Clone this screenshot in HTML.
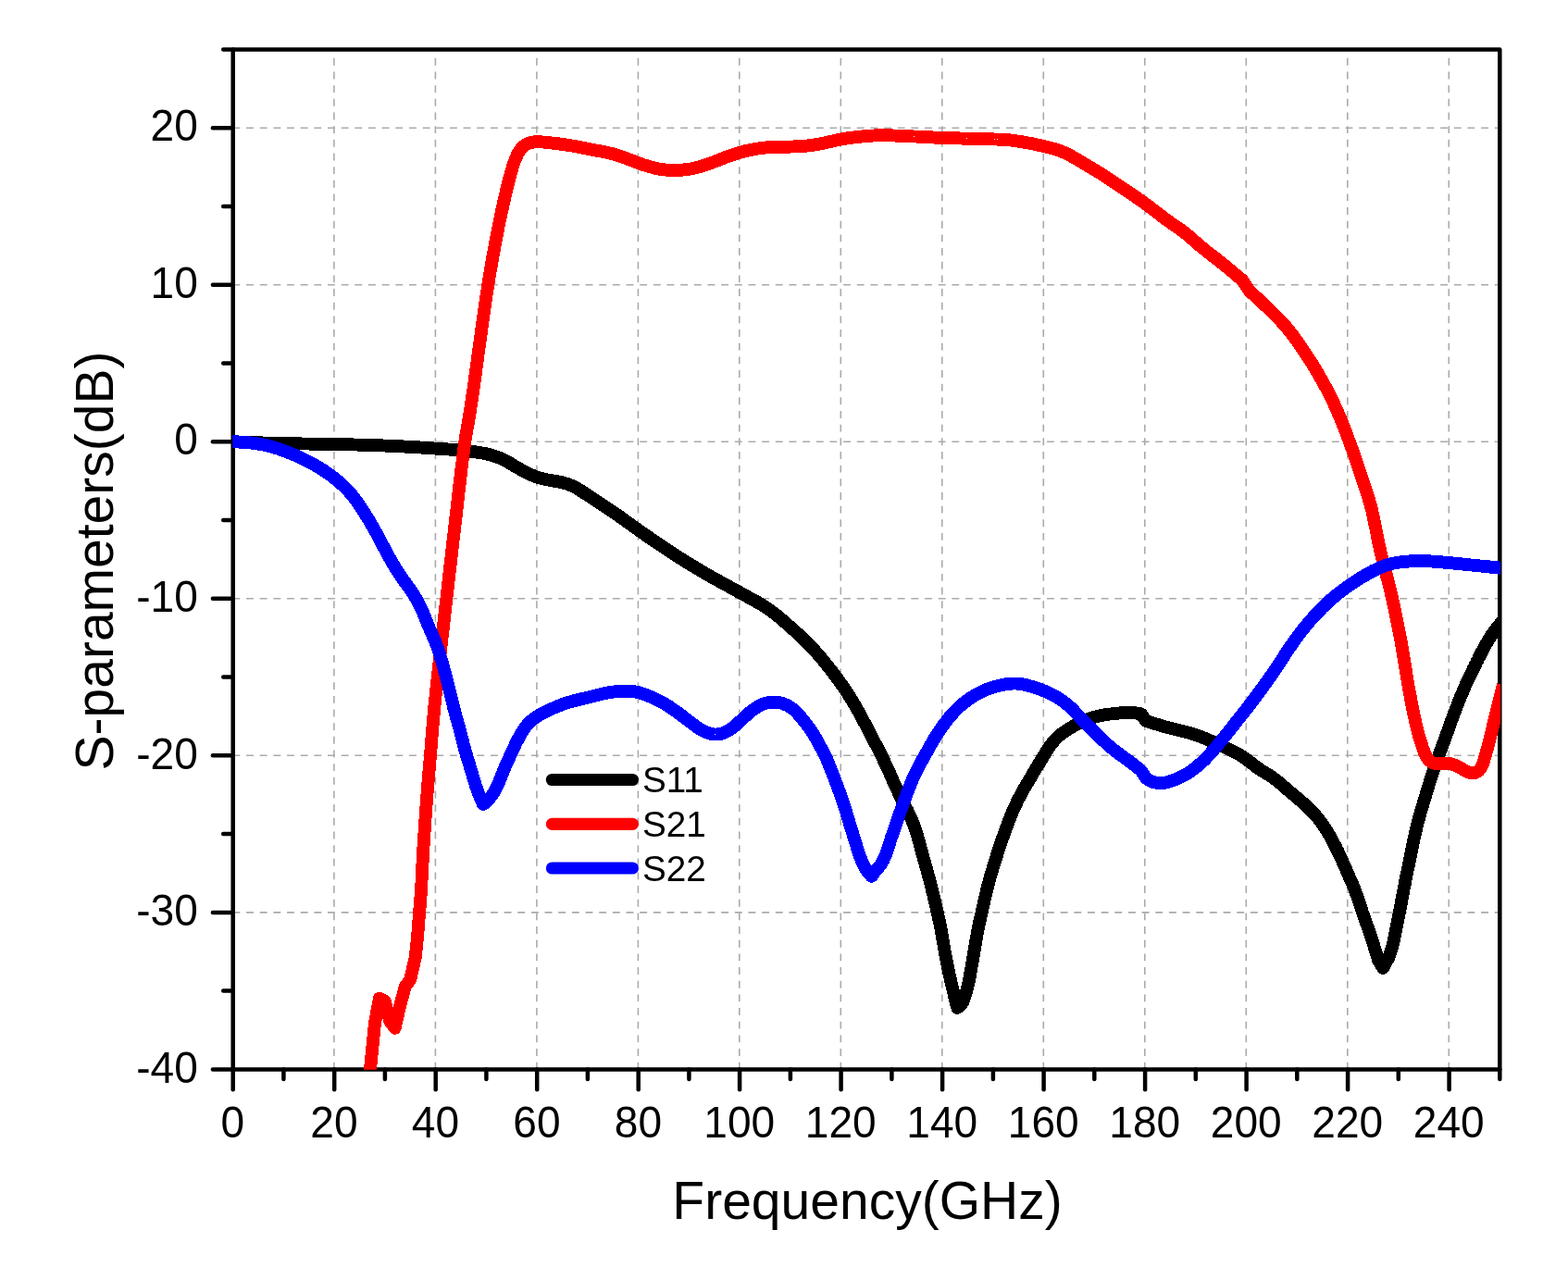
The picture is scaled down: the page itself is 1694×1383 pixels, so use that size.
<!DOCTYPE html>
<html lang="en">
<head>
<meta charset="utf-8">
<title>S-parameters vs Frequency</title>
<style>
html,body{margin:0;padding:0;background:#fff;}
body{width:1694px;height:1383px;overflow:hidden;}
svg{display:block;}
text{font-family:"Liberation Sans",Arial,Helvetica,sans-serif;fill:#000;}
.tick{font-size:48px;}
.lab{font-size:57px;}
.leg{font-size:38.7px;}
.ax{stroke:#000;stroke-width:4.5;fill:none;stroke-linecap:round;}
.grid{stroke:#aaaaaa;stroke-width:1.6;fill:none;stroke-dasharray:7.9 6.76;}
.crv{shape-rendering:crispEdges;fill:none;stroke-width:13.9;stroke-linejoin:round;stroke-linecap:butt;}
</style>
</head>
<body>
<svg xmlns="http://www.w3.org/2000/svg" width="1694" height="1383" viewBox="0 0 1694 1383">
<rect x="0" y="0" width="1694" height="1383" fill="#ffffff"/>
<defs><clipPath id="plot"><rect x="251.2" y="53.4" width="1369.9" height="1102.3"/></clipPath></defs>

<g class="grid">
<line x1="360.9" y1="1155.6" x2="360.9" y2="61.4"/>
<line x1="470.4" y1="1155.6" x2="470.4" y2="61.4"/>
<line x1="579.9" y1="1155.6" x2="579.9" y2="61.4"/>
<line x1="689.4" y1="1155.6" x2="689.4" y2="61.4"/>
<line x1="798.8" y1="1155.6" x2="798.8" y2="61.4"/>
<line x1="908.3" y1="1155.6" x2="908.3" y2="61.4"/>
<line x1="1017.8" y1="1155.6" x2="1017.8" y2="61.4"/>
<line x1="1127.3" y1="1155.6" x2="1127.3" y2="61.4"/>
<line x1="1236.8" y1="1155.6" x2="1236.8" y2="61.4"/>
<line x1="1346.3" y1="1155.6" x2="1346.3" y2="61.4"/>
<line x1="1455.8" y1="1155.6" x2="1455.8" y2="61.4"/>
<line x1="1565.3" y1="1155.6" x2="1565.3" y2="61.4"/>
<line x1="251.4" y1="985.9" x2="1620.3" y2="985.9"/>
<line x1="251.4" y1="816.3" x2="1620.3" y2="816.3"/>
<line x1="251.4" y1="646.8" x2="1620.3" y2="646.8"/>
<line x1="251.4" y1="477.2" x2="1620.3" y2="477.2"/>
<line x1="251.4" y1="307.7" x2="1620.3" y2="307.7"/>
<line x1="251.4" y1="138.2" x2="1620.3" y2="138.2"/>
</g>
<g class="ax">
<path d="M251.7,1155.4 L251.7,53.4 L1620.3,53.4 L1620.3,1155.4 L251.7,1155.4" stroke-linejoin="round"/>
<line x1="251.7" y1="1155.4" x2="251.7" y2="1177.2"/>
<line x1="306.4" y1="1155.4" x2="306.4" y2="1165.9"/>
<line x1="361.2" y1="1155.4" x2="361.2" y2="1177.2"/>
<line x1="415.9" y1="1155.4" x2="415.9" y2="1165.9"/>
<line x1="470.7" y1="1155.4" x2="470.7" y2="1177.2"/>
<line x1="525.4" y1="1155.4" x2="525.4" y2="1165.9"/>
<line x1="580.2" y1="1155.4" x2="580.2" y2="1177.2"/>
<line x1="634.9" y1="1155.4" x2="634.9" y2="1165.9"/>
<line x1="689.7" y1="1155.4" x2="689.7" y2="1177.2"/>
<line x1="744.4" y1="1155.4" x2="744.4" y2="1165.9"/>
<line x1="799.1" y1="1155.4" x2="799.1" y2="1177.2"/>
<line x1="853.9" y1="1155.4" x2="853.9" y2="1165.9"/>
<line x1="908.6" y1="1155.4" x2="908.6" y2="1177.2"/>
<line x1="963.4" y1="1155.4" x2="963.4" y2="1165.9"/>
<line x1="1018.1" y1="1155.4" x2="1018.1" y2="1177.2"/>
<line x1="1072.9" y1="1155.4" x2="1072.9" y2="1165.9"/>
<line x1="1127.6" y1="1155.4" x2="1127.6" y2="1177.2"/>
<line x1="1182.3" y1="1155.4" x2="1182.3" y2="1165.9"/>
<line x1="1237.1" y1="1155.4" x2="1237.1" y2="1177.2"/>
<line x1="1291.8" y1="1155.4" x2="1291.8" y2="1165.9"/>
<line x1="1346.6" y1="1155.4" x2="1346.6" y2="1177.2"/>
<line x1="1401.3" y1="1155.4" x2="1401.3" y2="1165.9"/>
<line x1="1456.1" y1="1155.4" x2="1456.1" y2="1177.2"/>
<line x1="1510.8" y1="1155.4" x2="1510.8" y2="1165.9"/>
<line x1="1565.6" y1="1155.4" x2="1565.6" y2="1177.2"/>
<line x1="1620.3" y1="1155.4" x2="1620.3" y2="1165.9"/>
<line x1="251.7" y1="1155.4" x2="229.9" y2="1155.4"/>
<line x1="251.7" y1="1070.6" x2="241.2" y2="1070.6"/>
<line x1="251.7" y1="985.9" x2="229.9" y2="985.9"/>
<line x1="251.7" y1="901.1" x2="241.2" y2="901.1"/>
<line x1="251.7" y1="816.3" x2="229.9" y2="816.3"/>
<line x1="251.7" y1="731.6" x2="241.2" y2="731.6"/>
<line x1="251.7" y1="646.8" x2="229.9" y2="646.8"/>
<line x1="251.7" y1="562.0" x2="241.2" y2="562.0"/>
<line x1="251.7" y1="477.2" x2="229.9" y2="477.2"/>
<line x1="251.7" y1="392.5" x2="241.2" y2="392.5"/>
<line x1="251.7" y1="307.7" x2="229.9" y2="307.7"/>
<line x1="251.7" y1="222.9" x2="241.2" y2="222.9"/>
<line x1="251.7" y1="138.2" x2="229.9" y2="138.2"/>
<line x1="251.7" y1="53.4" x2="241.2" y2="53.4"/>
</g>
<g clip-path="url(#plot)">
<path class="crv" stroke="#000000" d="M248.0,477.3 L249.5,477.3 L251.0,477.3 L252.5,477.3 L254.0,477.4 L255.5,477.4 L257.0,477.4 L258.5,477.5 L260.0,477.5 L261.5,477.6 L263.0,477.6 L264.5,477.7 L266.0,477.7 L267.5,477.8 L269.0,477.8 L270.5,477.9 L272.0,478.0 L273.5,478.0 L275.0,478.1 L276.5,478.1 L277.9,478.2 L279.4,478.3 L280.9,478.3 L282.4,478.4 L283.9,478.5 L285.4,478.5 L286.9,478.6 L288.4,478.6 L289.9,478.7 L291.4,478.8 L292.9,478.8 L294.4,478.9 L295.9,478.9 L297.4,479.0 L298.9,479.0 L300.4,479.0 L301.9,479.1 L303.4,479.1 L304.9,479.1 L306.4,479.2 L307.9,479.2 L309.4,479.2 L310.9,479.3 L312.4,479.3 L313.9,479.3 L315.4,479.3 L316.9,479.4 L318.4,479.4 L319.9,479.4 L321.4,479.4 L322.9,479.4 L324.4,479.4 L325.9,479.5 L327.4,479.5 L328.9,479.5 L330.4,479.5 L331.9,479.5 L333.4,479.5 L334.9,479.6 L336.4,479.6 L337.9,479.6 L339.4,479.6 L340.9,479.6 L342.4,479.6 L343.8,479.7 L345.3,479.7 L346.8,479.7 L348.3,479.7 L349.8,479.7 L351.3,479.8 L352.8,479.8 L354.3,479.8 L355.8,479.8 L357.3,479.8 L358.8,479.9 L360.3,479.9 L361.8,479.9 L363.3,480.0 L364.8,480.0 L366.3,480.0 L367.8,480.1 L369.3,480.1 L370.8,480.1 L372.3,480.2 L373.8,480.2 L375.3,480.2 L376.8,480.3 L378.3,480.3 L379.8,480.4 L381.3,480.4 L382.8,480.5 L384.3,480.5 L385.8,480.5 L387.3,480.6 L388.8,480.6 L390.3,480.7 L391.8,480.7 L393.3,480.8 L394.8,480.8 L396.3,480.9 L397.8,480.9 L399.3,481.0 L400.8,481.0 L402.3,481.1 L403.8,481.1 L405.3,481.2 L406.8,481.2 L408.3,481.3 L409.7,481.3 L411.2,481.4 L412.7,481.4 L414.2,481.5 L415.7,481.5 L417.2,481.6 L418.7,481.6 L420.2,481.7 L421.7,481.8 L423.2,481.8 L424.7,481.9 L426.2,482.0 L427.7,482.0 L429.2,482.1 L430.7,482.2 L432.2,482.3 L433.7,482.3 L435.2,482.4 L436.7,482.5 L438.2,482.6 L439.7,482.7 L441.2,482.7 L442.7,482.8 L444.2,482.9 L445.7,483.0 L447.2,483.1 L448.7,483.2 L450.2,483.3 L451.7,483.4 L453.1,483.4 L454.6,483.5 L456.1,483.6 L457.6,483.7 L459.1,483.8 L460.6,483.9 L462.1,484.0 L463.6,484.1 L465.1,484.2 L466.6,484.3 L468.1,484.4 L469.6,484.5 L471.1,484.6 L472.6,484.6 L474.1,484.7 L475.6,484.9 L477.1,485.0 L478.6,485.1 L480.1,485.2 L481.6,485.3 L483.1,485.4 L484.6,485.5 L486.1,485.6 L487.6,485.8 L489.1,485.9 L490.6,486.0 L492.1,486.2 L493.5,486.3 L495.0,486.4 L496.5,486.6 L498.0,486.7 L499.5,486.9 L501.0,487.0 L502.5,487.2 L504.0,487.3 L505.5,487.5 L507.0,487.6 L508.5,487.8 L509.9,487.9 L511.4,488.1 L512.9,488.3 L514.4,488.5 L515.9,488.7 L517.3,488.9 L518.8,489.1 L520.3,489.4 L521.8,489.6 L523.3,489.9 L524.7,490.2 L526.2,490.6 L527.7,490.9 L529.1,491.3 L530.6,491.7 L532.0,492.1 L533.5,492.5 L534.9,493.0 L536.3,493.5 L537.7,494.0 L539.1,494.5 L540.5,495.1 L541.8,495.7 L543.2,496.3 L544.5,496.9 L545.8,497.6 L547.1,498.3 L548.4,499.0 L549.7,499.8 L551.0,500.5 L552.3,501.3 L553.6,502.1 L554.9,502.9 L556.2,503.7 L557.5,504.4 L558.8,505.2 L560.1,505.9 L561.4,506.7 L562.7,507.4 L564.1,508.1 L565.4,508.9 L566.7,509.5 L568.1,510.2 L569.4,510.9 L570.7,511.6 L572.1,512.2 L573.5,512.8 L574.8,513.4 L576.2,514.0 L577.6,514.5 L579.0,515.1 L580.4,515.6 L581.8,516.0 L583.3,516.5 L584.7,516.9 L586.2,517.3 L587.6,517.6 L589.1,518.0 L590.6,518.3 L592.0,518.5 L593.5,518.8 L595.0,519.1 L596.5,519.3 L598.0,519.6 L599.5,519.8 L601.0,520.1 L602.5,520.3 L604.0,520.6 L605.4,520.9 L606.9,521.2 L608.3,521.6 L609.8,522.0 L611.2,522.4 L612.6,522.8 L614.0,523.3 L615.4,523.8 L616.7,524.4 L618.1,525.0 L619.4,525.6 L620.8,526.3 L622.1,527.0 L623.4,527.7 L624.7,528.4 L626.0,529.2 L627.2,530.0 L628.5,530.8 L629.8,531.6 L631.0,532.5 L632.3,533.3 L633.5,534.1 L634.8,535.0 L636.1,535.8 L637.3,536.6 L638.6,537.5 L639.8,538.3 L641.1,539.1 L642.3,540.0 L643.6,540.8 L644.9,541.6 L646.1,542.4 L647.4,543.2 L648.6,544.1 L649.9,544.9 L651.1,545.7 L652.4,546.5 L653.6,547.3 L654.9,548.2 L656.1,549.0 L657.4,549.8 L658.6,550.7 L659.9,551.5 L661.1,552.3 L662.3,553.2 L663.6,554.0 L664.8,554.9 L666.0,555.7 L667.3,556.6 L668.5,557.5 L669.7,558.3 L670.9,559.2 L672.2,560.1 L673.4,560.9 L674.6,561.8 L675.8,562.7 L677.0,563.6 L678.2,564.4 L679.5,565.3 L680.7,566.2 L681.9,567.1 L683.1,567.9 L684.3,568.8 L685.5,569.7 L686.8,570.6 L688.0,571.4 L689.2,572.3 L690.4,573.2 L691.6,574.0 L692.9,574.9 L694.1,575.7 L695.3,576.6 L696.6,577.5 L697.8,578.3 L699.0,579.2 L700.3,580.0 L701.5,580.9 L702.7,581.7 L704.0,582.6 L705.2,583.4 L706.4,584.2 L707.7,585.1 L708.9,585.9 L710.2,586.8 L711.4,587.6 L712.6,588.4 L713.9,589.3 L715.1,590.1 L716.4,591.0 L717.6,591.8 L718.9,592.6 L720.1,593.4 L721.4,594.3 L722.6,595.1 L723.9,595.9 L725.1,596.8 L726.4,597.6 L727.6,598.4 L728.9,599.2 L730.1,600.0 L731.4,600.9 L732.6,601.7 L733.9,602.5 L735.2,603.3 L736.4,604.1 L737.7,604.9 L739.0,605.7 L740.2,606.5 L741.5,607.3 L742.8,608.1 L744.0,608.8 L745.3,609.6 L746.6,610.4 L747.9,611.2 L749.2,612.0 L750.4,612.7 L751.7,613.5 L753.0,614.3 L754.3,615.0 L755.6,615.8 L756.9,616.6 L758.2,617.3 L759.5,618.1 L760.8,618.8 L762.1,619.6 L763.4,620.3 L764.7,621.1 L766.0,621.8 L767.3,622.6 L768.6,623.3 L769.9,624.0 L771.2,624.8 L772.5,625.5 L773.8,626.2 L775.1,627.0 L776.4,627.7 L777.7,628.4 L779.0,629.1 L780.4,629.9 L781.7,630.6 L783.0,631.3 L784.3,632.0 L785.6,632.7 L786.9,633.4 L788.2,634.2 L789.6,634.9 L790.9,635.6 L792.2,636.3 L793.5,637.0 L794.8,637.8 L796.1,638.5 L797.4,639.2 L798.8,639.9 L800.1,640.7 L801.4,641.4 L802.7,642.1 L804.0,642.8 L805.3,643.5 L806.7,644.2 L808.0,645.0 L809.3,645.7 L810.6,646.4 L812.0,647.1 L813.3,647.8 L814.6,648.6 L815.9,649.3 L817.2,650.0 L818.5,650.8 L819.8,651.5 L821.1,652.3 L822.4,653.1 L823.6,653.8 L824.9,654.6 L826.1,655.4 L827.4,656.2 L828.6,657.1 L829.9,657.9 L831.1,658.8 L832.3,659.6 L833.5,660.5 L834.7,661.4 L835.9,662.3 L837.1,663.2 L838.2,664.2 L839.4,665.1 L840.6,666.1 L841.8,667.0 L842.9,668.0 L844.1,668.9 L845.2,669.9 L846.4,670.9 L847.5,671.9 L848.6,672.8 L849.8,673.8 L850.9,674.8 L852.0,675.8 L853.2,676.8 L854.3,677.8 L855.4,678.8 L856.5,679.8 L857.7,680.8 L858.8,681.8 L859.9,682.8 L861.0,683.8 L862.1,684.8 L863.2,685.8 L864.3,686.8 L865.4,687.9 L866.5,688.9 L867.6,689.9 L868.7,691.0 L869.7,692.0 L870.8,693.1 L871.9,694.1 L872.9,695.2 L874.0,696.3 L875.0,697.3 L876.0,698.4 L877.0,699.5 L878.1,700.6 L879.1,701.7 L880.1,702.8 L881.1,703.9 L882.1,705.0 L883.0,706.2 L884.0,707.3 L885.0,708.4 L886.0,709.6 L887.0,710.7 L887.9,711.8 L888.9,713.0 L889.8,714.2 L890.8,715.3 L891.7,716.5 L892.7,717.6 L893.6,718.8 L894.6,720.0 L895.5,721.2 L896.4,722.4 L897.4,723.5 L898.3,724.7 L899.2,725.9 L900.1,727.1 L901.0,728.3 L901.9,729.5 L902.8,730.7 L903.7,731.9 L904.6,733.1 L905.5,734.3 L906.3,735.6 L907.2,736.8 L908.1,738.0 L908.9,739.2 L909.8,740.4 L910.7,741.7 L911.5,742.9 L912.3,744.1 L913.2,745.4 L914.0,746.6 L914.8,747.9 L915.6,749.1 L916.4,750.4 L917.3,751.7 L918.1,752.9 L918.8,754.2 L919.6,755.5 L920.4,756.8 L921.2,758.1 L922.0,759.3 L922.7,760.6 L923.5,761.9 L924.2,763.2 L925.0,764.5 L925.7,765.8 L926.5,767.1 L927.2,768.4 L927.9,769.7 L928.7,771.0 L929.4,772.3 L930.1,773.7 L930.8,775.0 L931.5,776.3 L932.2,777.6 L932.9,779.0 L933.6,780.3 L934.3,781.6 L935.0,782.9 L935.7,784.3 L936.4,785.6 L937.1,786.9 L937.8,788.2 L938.5,789.6 L939.2,790.9 L939.9,792.2 L940.6,793.6 L941.3,794.9 L942.0,796.2 L942.7,797.5 L943.4,798.9 L944.0,800.2 L944.7,801.5 L945.4,802.9 L946.1,804.2 L946.8,805.5 L947.5,806.9 L948.2,808.2 L948.9,809.5 L949.5,810.9 L950.2,812.2 L950.9,813.5 L951.5,814.9 L952.2,816.2 L952.9,817.6 L953.5,818.9 L954.2,820.3 L954.8,821.6 L955.5,823.0 L956.1,824.3 L956.7,825.7 L957.4,827.0 L958.0,828.4 L958.6,829.8 L959.2,831.1 L959.8,832.5 L960.5,833.9 L961.1,835.2 L961.7,836.6 L962.3,838.0 L962.9,839.3 L963.5,840.7 L964.1,842.1 L964.7,843.4 L965.3,844.8 L966.0,846.2 L966.6,847.5 L967.2,848.9 L967.8,850.3 L968.5,851.6 L969.1,853.0 L969.8,854.3 L970.4,855.7 L971.0,857.0 L971.7,858.4 L972.4,859.7 L973.0,861.1 L973.7,862.4 L974.3,863.7 L975.0,865.1 L975.7,866.4 L976.3,867.8 L977.0,869.1 L977.7,870.5 L978.3,871.8 L979.0,873.2 L979.7,874.5 L980.4,875.8 L981.0,877.2 L981.7,878.5 L982.3,879.9 L983.0,881.2 L983.6,882.6 L984.3,884.0 L984.9,885.3 L985.5,886.7 L986.0,888.1 L986.6,889.4 L987.1,890.8 L987.7,892.2 L988.2,893.6 L988.7,895.0 L989.1,896.5 L989.6,897.9 L990.0,899.3 L990.5,900.8 L990.9,902.2 L991.3,903.6 L991.7,905.1 L992.1,906.5 L992.5,908.0 L992.9,909.4 L993.3,910.9 L993.7,912.3 L994.1,913.8 L994.5,915.2 L994.9,916.7 L995.2,918.1 L995.6,919.6 L996.0,921.0 L996.4,922.4 L996.8,923.9 L997.2,925.3 L997.6,926.8 L998.0,928.2 L998.4,929.7 L998.8,931.1 L999.2,932.5 L999.6,934.0 L1000.0,935.4 L1000.4,936.9 L1000.9,938.3 L1001.3,939.8 L1001.6,941.2 L1002.0,942.7 L1002.4,944.1 L1002.8,945.5 L1003.2,947.0 L1003.6,948.4 L1004.0,949.9 L1004.4,951.3 L1004.7,952.8 L1005.1,954.2 L1005.5,955.7 L1005.9,957.1 L1006.2,958.6 L1006.6,960.1 L1006.9,961.5 L1007.3,963.0 L1007.7,964.4 L1008.0,965.9 L1008.4,967.3 L1008.7,968.8 L1009.1,970.2 L1009.4,971.7 L1009.8,973.2 L1010.1,974.6 L1010.4,976.1 L1010.8,977.5 L1011.1,979.0 L1011.5,980.4 L1011.8,981.9 L1012.1,983.4 L1012.5,984.8 L1012.8,986.3 L1013.1,987.8 L1013.5,989.2 L1013.8,990.7 L1014.1,992.1 L1014.4,993.6 L1014.8,995.1 L1015.1,996.5 L1015.4,998.0 L1015.7,999.5 L1016.0,1000.9 L1016.2,1002.4 L1016.5,1003.9 L1016.8,1005.4 L1017.1,1006.8 L1017.3,1008.3 L1017.6,1009.8 L1017.8,1011.3 L1018.1,1012.7 L1018.3,1014.2 L1018.6,1015.7 L1018.9,1017.2 L1019.1,1018.6 L1019.4,1020.1 L1019.6,1021.6 L1019.9,1023.1 L1020.1,1024.5 L1020.4,1026.0 L1020.6,1027.5 L1020.9,1029.0 L1021.1,1030.4 L1021.4,1031.9 L1021.7,1033.4 L1021.9,1034.9 L1022.2,1036.3 L1022.5,1037.8 L1022.8,1039.3 L1023.1,1040.8 L1023.4,1042.2 L1023.7,1043.7 L1024.0,1045.2 L1024.3,1046.6 L1024.6,1048.1 L1024.9,1049.6 L1025.2,1051.0 L1025.6,1052.5 L1025.9,1053.9 L1026.2,1055.4 L1026.5,1056.9 L1026.9,1058.3 L1027.2,1059.8 L1027.5,1061.2 L1027.9,1062.7 L1028.2,1064.2 L1028.6,1065.6 L1028.9,1067.1 L1029.2,1068.5 L1029.6,1070.0 L1029.9,1071.5 L1030.3,1072.9 L1030.6,1074.4 L1031.0,1075.8 L1031.3,1077.3 L1031.7,1078.7 L1032.0,1080.2 L1032.4,1081.7 L1032.8,1083.1 L1033.2,1084.6 L1033.5,1086.0 L1033.9,1087.5 L1034.3,1088.9 L1040.0,1083.2 L1040.5,1081.8 L1041.0,1080.4 L1041.6,1079.0 L1042.1,1077.6 L1042.6,1076.1 L1043.0,1074.7 L1043.5,1073.3 L1043.9,1071.8 L1044.3,1070.4 L1044.7,1069.0 L1045.1,1067.5 L1045.4,1066.1 L1045.8,1064.6 L1046.1,1063.2 L1046.4,1061.7 L1046.7,1060.2 L1047.0,1058.8 L1047.3,1057.3 L1047.6,1055.8 L1047.9,1054.4 L1048.2,1052.9 L1048.4,1051.4 L1048.7,1049.9 L1048.9,1048.5 L1049.2,1047.0 L1049.5,1045.5 L1049.7,1044.0 L1050.0,1042.6 L1050.2,1041.1 L1050.5,1039.6 L1050.7,1038.1 L1051.0,1036.6 L1051.2,1035.2 L1051.5,1033.7 L1051.7,1032.2 L1052.0,1030.7 L1052.2,1029.3 L1052.5,1027.8 L1052.7,1026.3 L1053.0,1024.8 L1053.2,1023.3 L1053.5,1021.9 L1053.7,1020.4 L1054.0,1018.9 L1054.2,1017.4 L1054.5,1016.0 L1054.7,1014.5 L1055.0,1013.0 L1055.2,1011.5 L1055.5,1010.1 L1055.8,1008.6 L1056.0,1007.1 L1056.3,1005.6 L1056.6,1004.2 L1056.9,1002.7 L1057.2,1001.2 L1057.5,999.8 L1057.8,998.3 L1058.1,996.8 L1058.4,995.4 L1058.8,993.9 L1059.1,992.5 L1059.4,991.0 L1059.7,989.5 L1060.1,988.1 L1060.4,986.6 L1060.7,985.1 L1061.1,983.7 L1061.4,982.2 L1061.7,980.8 L1062.1,979.3 L1062.4,977.8 L1062.7,976.4 L1063.0,974.9 L1063.4,973.5 L1063.7,972.0 L1064.0,970.5 L1064.4,969.1 L1064.7,967.6 L1065.0,966.2 L1065.4,964.7 L1065.7,963.2 L1066.1,961.8 L1066.4,960.3 L1066.8,958.9 L1067.2,957.4 L1067.5,956.0 L1067.9,954.5 L1068.3,953.1 L1068.7,951.6 L1069.1,950.2 L1069.5,948.8 L1069.9,947.3 L1070.3,945.9 L1070.7,944.4 L1071.1,943.0 L1071.6,941.6 L1072.0,940.1 L1072.4,938.7 L1072.9,937.2 L1073.3,935.8 L1073.7,934.4 L1074.2,932.9 L1074.6,931.5 L1075.1,930.1 L1075.5,928.7 L1076.0,927.2 L1076.4,925.8 L1076.9,924.4 L1077.3,923.0 L1077.8,921.5 L1078.3,920.1 L1078.7,918.7 L1079.2,917.3 L1079.7,915.8 L1080.1,914.4 L1080.6,913.0 L1081.1,911.6 L1081.6,910.2 L1082.1,908.7 L1082.6,907.3 L1083.0,905.9 L1083.5,904.5 L1084.0,903.1 L1084.5,901.7 L1085.0,900.3 L1085.5,898.8 L1086.0,897.4 L1086.5,896.0 L1087.0,894.6 L1087.6,893.2 L1088.1,891.8 L1088.6,890.4 L1089.1,889.0 L1089.7,887.6 L1090.2,886.2 L1090.7,884.8 L1091.3,883.4 L1091.9,882.0 L1092.4,880.6 L1093.0,879.3 L1093.6,877.9 L1094.2,876.5 L1094.8,875.1 L1095.4,873.8 L1096.0,872.4 L1096.6,871.0 L1097.2,869.7 L1097.9,868.3 L1098.5,867.0 L1099.2,865.6 L1099.8,864.3 L1100.5,862.9 L1101.2,861.6 L1101.9,860.3 L1102.6,859.0 L1103.3,857.6 L1104.0,856.3 L1104.8,855.0 L1105.5,853.7 L1106.2,852.4 L1107.0,851.1 L1107.7,849.8 L1108.5,848.5 L1109.3,847.2 L1110.0,845.9 L1110.8,844.7 L1111.5,843.4 L1112.3,842.1 L1113.1,840.8 L1113.8,839.5 L1114.6,838.2 L1115.4,836.9 L1116.1,835.6 L1116.9,834.3 L1117.7,833.1 L1118.4,831.8 L1119.2,830.5 L1120.0,829.2 L1120.7,827.9 L1121.5,826.6 L1122.3,825.3 L1123.1,824.1 L1123.8,822.8 L1124.6,821.5 L1125.4,820.2 L1126.2,818.9 L1127.0,817.6 L1127.8,816.3 L1128.6,815.0 L1129.4,813.7 L1130.2,812.4 L1131.0,811.2 L1131.8,809.9 L1132.6,808.6 L1133.5,807.4 L1134.3,806.1 L1135.2,804.9 L1136.1,803.7 L1137.0,802.5 L1137.9,801.4 L1138.8,800.3 L1139.8,799.2 L1140.8,798.1 L1141.9,797.1 L1142.9,796.1 L1144.0,795.1 L1145.2,794.1 L1146.3,793.2 L1147.5,792.3 L1148.7,791.4 L1150.0,790.6 L1151.2,789.7 L1152.5,788.9 L1153.8,788.1 L1155.1,787.3 L1156.4,786.5 L1157.7,785.7 L1159.0,785.0 L1160.3,784.2 L1161.6,783.5 L1163.0,782.8 L1164.3,782.1 L1165.6,781.4 L1167.0,780.7 L1168.3,780.1 L1169.7,779.4 L1171.1,778.8 L1172.4,778.2 L1173.8,777.6 L1175.2,777.1 L1176.6,776.5 L1178.0,776.1 L1179.5,775.6 L1180.9,775.2 L1182.3,774.8 L1183.7,774.4 L1185.2,774.0 L1186.7,773.7 L1188.1,773.4 L1189.6,773.1 L1191.1,772.8 L1192.5,772.5 L1194.0,772.3 L1195.5,772.1 L1197.0,771.8 L1198.5,771.6 L1200.0,771.5 L1201.5,771.3 L1203.0,771.1 L1204.5,770.9 L1205.9,770.8 L1207.4,770.7 L1208.9,770.5 L1210.4,770.4 L1211.9,770.3 L1213.4,770.3 L1214.9,770.2 L1216.4,770.1 L1217.9,770.1 L1219.4,770.1 L1220.9,770.1 L1222.4,770.1 L1223.9,770.1 L1225.4,770.2 L1226.9,770.4 L1228.4,770.6 L1229.8,770.9 L1231.3,771.1 L1232.8,771.4 L1237.8,778.9 L1239.2,779.4 L1240.6,779.8 L1242.1,780.3 L1243.5,780.7 L1244.9,781.2 L1246.4,781.6 L1247.8,782.0 L1249.2,782.5 L1250.7,782.9 L1252.1,783.3 L1253.5,783.8 L1255.0,784.2 L1256.4,784.6 L1257.8,785.0 L1259.3,785.4 L1260.7,785.8 L1262.2,786.2 L1263.6,786.6 L1265.1,786.9 L1266.5,787.3 L1268.0,787.7 L1269.4,788.0 L1270.9,788.4 L1272.3,788.7 L1273.8,789.1 L1275.3,789.4 L1276.7,789.8 L1278.2,790.1 L1279.6,790.5 L1281.1,790.9 L1282.5,791.2 L1283.9,791.6 L1285.4,792.0 L1286.8,792.4 L1288.2,792.9 L1289.7,793.3 L1291.1,793.8 L1292.5,794.3 L1293.9,794.8 L1295.3,795.3 L1296.7,795.8 L1298.1,796.4 L1299.5,796.9 L1300.9,797.5 L1302.3,798.0 L1303.6,798.6 L1305.0,799.2 L1306.4,799.8 L1307.8,800.4 L1309.1,801.0 L1310.5,801.6 L1311.9,802.2 L1313.3,802.8 L1314.6,803.4 L1316.0,804.0 L1317.4,804.7 L1318.7,805.3 L1320.1,805.9 L1321.5,806.5 L1322.8,807.2 L1324.2,807.8 L1325.6,808.5 L1326.9,809.1 L1328.3,809.8 L1329.6,810.4 L1331.0,811.1 L1332.3,811.8 L1333.7,812.5 L1335.0,813.2 L1336.3,813.9 L1337.6,814.6 L1338.9,815.3 L1340.2,816.1 L1341.5,816.9 L1342.7,817.7 L1343.9,818.5 L1345.2,819.3 L1346.4,820.2 L1347.5,821.1 L1348.7,822.0 L1349.9,822.9 L1351.0,823.8 L1352.2,824.8 L1353.4,825.7 L1354.6,826.6 L1355.7,827.5 L1356.9,828.4 L1358.1,829.3 L1359.4,830.1 L1360.6,831.0 L1361.9,831.8 L1363.1,832.6 L1364.4,833.4 L1365.7,834.1 L1367.0,834.9 L1368.2,835.7 L1369.5,836.5 L1370.8,837.3 L1372.0,838.1 L1373.3,838.9 L1374.5,839.8 L1375.7,840.6 L1376.9,841.5 L1378.1,842.4 L1379.3,843.3 L1380.4,844.3 L1381.6,845.2 L1382.8,846.2 L1383.9,847.1 L1385.0,848.1 L1386.2,849.1 L1387.3,850.1 L1388.4,851.1 L1389.6,852.0 L1390.7,853.0 L1391.8,854.0 L1393.0,854.9 L1394.1,855.9 L1395.3,856.9 L1396.4,857.8 L1397.6,858.8 L1398.7,859.8 L1399.8,860.7 L1401.0,861.7 L1402.1,862.7 L1403.3,863.7 L1404.4,864.6 L1405.5,865.6 L1406.7,866.6 L1407.8,867.6 L1408.9,868.6 L1410.0,869.6 L1411.1,870.6 L1412.2,871.6 L1413.3,872.7 L1414.4,873.7 L1415.5,874.7 L1416.5,875.8 L1417.6,876.9 L1418.6,877.9 L1419.6,879.0 L1420.6,880.2 L1421.6,881.3 L1422.5,882.4 L1423.5,883.6 L1424.4,884.7 L1425.3,885.9 L1426.2,887.1 L1427.1,888.3 L1428.0,889.5 L1428.9,890.8 L1429.7,892.0 L1430.6,893.2 L1431.4,894.5 L1432.2,895.7 L1433.0,897.0 L1433.8,898.3 L1434.6,899.6 L1435.3,900.8 L1436.1,902.1 L1436.8,903.4 L1437.6,904.7 L1438.3,906.0 L1439.0,907.3 L1439.7,908.7 L1440.4,910.0 L1441.1,911.3 L1441.8,912.6 L1442.5,914.0 L1443.2,915.3 L1443.8,916.7 L1444.5,918.0 L1445.2,919.3 L1445.8,920.7 L1446.4,922.0 L1447.1,923.4 L1447.7,924.8 L1448.3,926.1 L1448.9,927.5 L1449.6,928.8 L1450.2,930.2 L1450.8,931.6 L1451.4,932.9 L1452.0,934.3 L1452.6,935.7 L1453.2,937.0 L1453.8,938.4 L1454.4,939.8 L1455.0,941.2 L1455.6,942.5 L1456.2,943.9 L1456.8,945.3 L1457.4,946.6 L1458.0,948.0 L1458.6,949.4 L1459.2,950.7 L1459.8,952.1 L1460.4,953.5 L1461.0,954.9 L1461.6,956.3 L1462.1,957.6 L1462.7,959.0 L1463.2,960.4 L1463.8,961.8 L1464.3,963.2 L1464.8,964.6 L1465.3,966.0 L1465.8,967.4 L1466.3,968.8 L1466.8,970.3 L1467.3,971.7 L1467.7,973.1 L1468.2,974.5 L1468.7,975.9 L1469.2,977.4 L1469.6,978.8 L1470.1,980.2 L1470.6,981.6 L1471.1,983.0 L1471.5,984.5 L1472.0,985.9 L1472.5,987.3 L1473.0,988.7 L1473.5,990.1 L1474.0,991.5 L1474.5,992.9 L1475.0,994.3 L1475.5,995.8 L1476.0,997.2 L1476.5,998.6 L1477.0,1000.0 L1477.5,1001.4 L1478.0,1002.8 L1478.4,1004.2 L1478.9,1005.6 L1479.4,1007.1 L1479.9,1008.5 L1480.4,1009.9 L1480.9,1011.3 L1481.3,1012.7 L1481.8,1014.1 L1482.3,1015.6 L1482.7,1017.0 L1483.2,1018.4 L1483.7,1019.8 L1484.1,1021.3 L1484.6,1022.7 L1485.0,1024.1 L1485.5,1025.5 L1485.9,1027.0 L1486.3,1028.4 L1486.8,1029.8 L1487.2,1031.3 L1487.6,1032.7 L1488.1,1034.1 L1488.5,1035.6 L1488.9,1037.0 L1494.1,1045.9 L1499.9,1035.5 L1500.4,1034.1 L1501.0,1032.7 L1501.5,1031.3 L1502.0,1029.9 L1502.5,1028.5 L1503.0,1027.0 L1503.4,1025.6 L1503.9,1024.2 L1504.3,1022.7 L1504.6,1021.3 L1505.0,1019.8 L1505.3,1018.4 L1505.6,1016.9 L1505.9,1015.5 L1506.2,1014.0 L1506.5,1012.5 L1506.8,1011.1 L1507.1,1009.6 L1507.4,1008.1 L1507.7,1006.7 L1508.0,1005.2 L1508.3,1003.7 L1508.5,1002.2 L1508.8,1000.8 L1509.1,999.3 L1509.4,997.8 L1509.7,996.4 L1510.0,994.9 L1510.3,993.4 L1510.6,992.0 L1510.9,990.5 L1511.2,989.0 L1511.5,987.6 L1511.8,986.1 L1512.1,984.6 L1512.4,983.1 L1512.7,981.7 L1513.0,980.2 L1513.2,978.7 L1513.5,977.3 L1513.8,975.8 L1514.1,974.3 L1514.3,972.8 L1514.6,971.4 L1514.9,969.9 L1515.1,968.4 L1515.4,966.9 L1515.7,965.5 L1515.9,964.0 L1516.2,962.5 L1516.5,961.1 L1516.8,959.6 L1517.1,958.1 L1517.4,956.7 L1517.7,955.2 L1518.0,953.7 L1518.2,952.2 L1518.5,950.8 L1518.8,949.3 L1519.1,947.8 L1519.4,946.4 L1519.7,944.9 L1520.0,943.4 L1520.3,942.0 L1520.6,940.5 L1520.9,939.0 L1521.2,937.6 L1521.5,936.1 L1521.8,934.6 L1522.1,933.2 L1522.4,931.7 L1522.7,930.2 L1523.0,928.8 L1523.3,927.3 L1523.6,925.8 L1523.9,924.4 L1524.2,922.9 L1524.5,921.4 L1524.8,920.0 L1525.1,918.5 L1525.4,917.0 L1525.7,915.6 L1526.0,914.1 L1526.3,912.6 L1526.6,911.2 L1526.9,909.7 L1527.2,908.2 L1527.5,906.8 L1527.9,905.3 L1528.2,903.8 L1528.5,902.4 L1528.8,900.9 L1529.2,899.5 L1529.5,898.0 L1529.9,896.5 L1530.2,895.1 L1530.5,893.6 L1530.9,892.2 L1531.3,890.7 L1531.6,889.3 L1532.0,887.8 L1532.4,886.4 L1532.8,884.9 L1533.1,883.5 L1533.5,882.0 L1533.9,880.6 L1534.3,879.1 L1534.8,877.7 L1535.2,876.3 L1535.6,874.8 L1536.0,873.4 L1536.4,871.9 L1536.9,870.5 L1537.3,869.1 L1537.7,867.6 L1538.2,866.2 L1538.6,864.8 L1539.1,863.3 L1539.5,861.9 L1539.9,860.5 L1540.4,859.1 L1540.8,857.6 L1541.2,856.2 L1541.7,854.7 L1542.1,853.3 L1542.5,851.9 L1543.0,850.4 L1543.4,849.0 L1543.8,847.6 L1544.3,846.2 L1544.7,844.7 L1545.2,843.3 L1545.6,841.9 L1546.1,840.4 L1546.5,839.0 L1547.0,837.6 L1547.5,836.2 L1547.9,834.7 L1548.4,833.3 L1548.9,831.9 L1549.3,830.5 L1549.8,829.1 L1550.3,827.6 L1550.8,826.2 L1551.3,824.8 L1551.8,823.4 L1552.3,822.0 L1552.8,820.6 L1553.3,819.2 L1553.8,817.8 L1554.3,816.4 L1554.9,815.0 L1555.4,813.6 L1555.9,812.1 L1556.4,810.7 L1557.0,809.3 L1557.5,807.9 L1558.0,806.5 L1558.5,805.1 L1559.0,803.7 L1559.6,802.3 L1560.1,800.9 L1560.6,799.5 L1561.1,798.1 L1561.6,796.7 L1562.1,795.3 L1562.6,793.9 L1563.1,792.5 L1563.7,791.1 L1564.2,789.7 L1564.7,788.2 L1565.2,786.8 L1565.7,785.4 L1566.2,784.0 L1566.7,782.6 L1567.2,781.2 L1567.7,779.8 L1568.2,778.4 L1568.7,777.0 L1569.3,775.6 L1569.8,774.2 L1570.3,772.8 L1570.8,771.4 L1571.3,770.0 L1571.9,768.6 L1572.4,767.2 L1572.9,765.8 L1573.5,764.4 L1574.0,763.0 L1574.5,761.6 L1575.1,760.2 L1575.6,758.8 L1576.2,757.4 L1576.7,756.0 L1577.3,754.6 L1577.9,753.2 L1578.4,751.8 L1579.0,750.4 L1579.6,749.1 L1580.2,747.7 L1580.7,746.3 L1581.3,744.9 L1581.9,743.5 L1582.5,742.2 L1583.1,740.8 L1583.7,739.4 L1584.4,738.1 L1585.0,736.7 L1585.6,735.4 L1586.2,734.0 L1586.9,732.6 L1587.5,731.3 L1588.2,729.9 L1588.8,728.6 L1589.5,727.2 L1590.1,725.9 L1590.8,724.5 L1591.4,723.2 L1592.1,721.9 L1592.8,720.5 L1593.4,719.2 L1594.1,717.8 L1594.8,716.5 L1595.4,715.1 L1596.1,713.8 L1596.8,712.5 L1597.4,711.1 L1598.1,709.8 L1598.8,708.4 L1599.5,707.1 L1600.1,705.8 L1600.8,704.4 L1601.5,703.1 L1602.2,701.8 L1602.9,700.5 L1603.6,699.1 L1604.3,697.8 L1605.1,696.5 L1605.8,695.2 L1606.6,693.9 L1607.3,692.6 L1608.1,691.3 L1608.9,690.1 L1609.7,688.8 L1610.5,687.6 L1611.3,686.3 L1612.2,685.1 L1613.0,683.9 L1613.9,682.6 L1614.8,681.4 L1615.7,680.3 L1616.6,679.1 L1617.6,677.9 L1618.5,676.7 L1619.5,675.6 L1620.4,674.4 L1621.3,673.2 L1622.2,672.0 L1623.2,670.9 L1624.1,669.7 L1625.0,668.5"/>
<path class="crv" stroke="#ff0000" d="M399.5,1160.0 L405.0,1105.0 L410.0,1078.5 L415.9,1082.0 L421.4,1103.5 L426.6,1110.8 L432.3,1086.0 L437.8,1066.0 L443.3,1058.0 L448.8,1034.0 L449.0,1032.5 L449.1,1031.0 L449.3,1029.5 L449.4,1028.0 L449.6,1026.5 L449.8,1025.1 L449.9,1023.6 L450.1,1022.1 L450.2,1020.6 L450.4,1019.1 L450.5,1017.6 L450.6,1016.1 L450.8,1014.6 L450.9,1013.1 L451.1,1011.6 L451.2,1010.1 L451.3,1008.6 L451.5,1007.1 L451.6,1005.6 L451.7,1004.2 L451.8,1002.7 L451.9,1001.2 L452.1,999.7 L452.2,998.2 L452.3,996.7 L452.4,995.2 L452.5,993.7 L452.6,992.2 L452.7,990.7 L452.9,989.2 L453.0,987.7 L453.1,986.2 L453.2,984.7 L453.3,983.2 L453.4,981.7 L453.6,980.2 L453.7,978.7 L453.8,977.2 L453.9,975.8 L454.0,974.3 L454.2,972.8 L454.3,971.3 L454.4,969.8 L454.5,968.3 L454.6,966.8 L454.7,965.3 L454.8,963.8 L454.9,962.3 L455.0,960.8 L455.1,959.3 L455.2,957.8 L455.3,956.3 L455.4,954.8 L455.5,953.3 L455.5,951.8 L455.6,950.3 L455.7,948.8 L455.8,947.3 L455.8,945.8 L455.9,944.3 L456.0,942.8 L456.0,941.3 L456.1,939.8 L456.2,938.3 L456.3,936.8 L456.3,935.3 L456.4,933.9 L456.5,932.4 L456.6,930.9 L456.6,929.4 L456.7,927.9 L456.8,926.4 L456.9,924.9 L457.0,923.4 L457.1,921.9 L457.2,920.4 L457.3,918.9 L457.4,917.4 L457.4,915.9 L457.5,914.4 L457.6,912.9 L457.7,911.4 L457.8,909.9 L457.9,908.4 L458.0,906.9 L458.1,905.4 L458.2,903.9 L458.3,902.4 L458.4,900.9 L458.5,899.4 L458.6,897.9 L458.7,896.4 L458.8,894.9 L458.9,893.4 L459.0,891.9 L459.1,890.5 L459.2,889.0 L459.3,887.5 L459.4,886.0 L459.5,884.5 L459.6,883.0 L459.7,881.5 L459.8,880.0 L459.9,878.5 L460.0,877.0 L460.1,875.5 L460.3,874.0 L460.4,872.5 L460.5,871.0 L460.6,869.5 L460.7,868.0 L460.8,866.5 L460.9,865.0 L461.0,863.5 L461.1,862.0 L461.3,860.5 L461.4,859.1 L461.5,857.6 L461.6,856.1 L461.7,854.6 L461.8,853.1 L462.0,851.6 L462.1,850.1 L462.2,848.6 L462.3,847.1 L462.4,845.6 L462.6,844.1 L462.7,842.6 L462.8,841.1 L462.9,839.6 L463.1,838.1 L463.2,836.6 L463.3,835.1 L463.5,833.6 L463.6,832.2 L463.7,830.7 L463.8,829.2 L464.0,827.7 L464.1,826.2 L464.2,824.7 L464.3,823.2 L464.5,821.7 L464.6,820.2 L464.7,818.7 L464.8,817.2 L465.0,815.7 L465.1,814.2 L465.2,812.7 L465.3,811.2 L465.5,809.7 L465.6,808.2 L465.7,806.8 L465.8,805.3 L465.9,803.8 L466.1,802.3 L466.2,800.8 L466.3,799.3 L466.4,797.8 L466.5,796.3 L466.7,794.8 L466.8,793.3 L466.9,791.8 L467.0,790.3 L467.2,788.8 L467.3,787.3 L467.4,785.8 L467.5,784.3 L467.7,782.8 L467.8,781.3 L467.9,779.9 L468.0,778.4 L468.2,776.9 L468.3,775.4 L468.4,773.9 L468.6,772.4 L468.7,770.9 L468.8,769.4 L469.0,767.9 L469.1,766.4 L469.3,764.9 L469.4,763.4 L469.5,761.9 L469.7,760.4 L469.8,759.0 L470.0,757.5 L470.1,756.0 L470.3,754.5 L470.5,753.0 L470.6,751.5 L470.8,750.0 L470.9,748.5 L471.1,747.0 L471.2,745.5 L471.4,744.0 L471.6,742.6 L471.7,741.1 L471.9,739.6 L472.1,738.1 L472.2,736.6 L472.4,735.1 L472.5,733.6 L472.7,732.1 L472.9,730.6 L473.0,729.1 L473.2,727.6 L473.4,726.2 L473.5,724.7 L473.7,723.2 L473.9,721.7 L474.0,720.2 L474.2,718.7 L474.4,717.2 L474.5,715.7 L474.7,714.2 L474.9,712.7 L475.0,711.3 L475.2,709.8 L475.4,708.3 L475.5,706.8 L475.7,705.3 L475.9,703.8 L476.0,702.3 L476.2,700.8 L476.4,699.3 L476.5,697.8 L476.7,696.4 L476.9,694.9 L477.0,693.4 L477.2,691.9 L477.4,690.4 L477.5,688.9 L477.7,687.4 L477.9,685.9 L478.0,684.4 L478.2,682.9 L478.4,681.5 L478.6,680.0 L478.7,678.5 L478.9,677.0 L479.1,675.5 L479.2,674.0 L479.4,672.5 L479.6,671.0 L479.7,669.5 L479.9,668.1 L480.1,666.6 L480.3,665.1 L480.4,663.6 L480.6,662.1 L480.8,660.6 L480.9,659.1 L481.1,657.6 L481.3,656.1 L481.4,654.6 L481.6,653.2 L481.8,651.7 L482.0,650.2 L482.1,648.7 L482.3,647.2 L482.5,645.7 L482.6,644.2 L482.8,642.7 L483.0,641.2 L483.1,639.7 L483.3,638.3 L483.5,636.8 L483.7,635.3 L483.8,633.8 L484.0,632.3 L484.2,630.8 L484.3,629.3 L484.5,627.8 L484.7,626.3 L484.8,624.9 L485.0,623.4 L485.2,621.9 L485.4,620.4 L485.5,618.9 L485.7,617.4 L485.9,615.9 L486.0,614.4 L486.2,612.9 L486.4,611.4 L486.6,610.0 L486.7,608.5 L486.9,607.0 L487.1,605.5 L487.2,604.0 L487.4,602.5 L487.6,601.0 L487.8,599.5 L487.9,598.0 L488.1,596.6 L488.3,595.1 L488.4,593.6 L488.6,592.1 L488.8,590.6 L489.0,589.1 L489.1,587.6 L489.3,586.1 L489.5,584.6 L489.6,583.1 L489.8,581.7 L490.0,580.2 L490.2,578.7 L490.3,577.2 L490.5,575.7 L490.7,574.2 L490.9,572.7 L491.0,571.2 L491.2,569.7 L491.4,568.3 L491.6,566.8 L491.7,565.3 L491.9,563.8 L492.1,562.3 L492.2,560.8 L492.4,559.3 L492.6,557.8 L492.8,556.3 L492.9,554.9 L493.1,553.4 L493.3,551.9 L493.5,550.4 L493.6,548.9 L493.8,547.4 L494.0,545.9 L494.1,544.4 L494.3,542.9 L494.5,541.4 L494.6,540.0 L494.8,538.5 L495.0,537.0 L495.2,535.5 L495.3,534.0 L495.5,532.5 L495.7,531.0 L495.8,529.5 L496.0,528.0 L496.2,526.5 L496.3,525.1 L496.5,523.6 L496.7,522.1 L496.9,520.6 L497.0,519.1 L497.2,517.6 L497.4,516.1 L497.6,514.6 L497.7,513.1 L497.9,511.6 L498.1,510.2 L498.3,508.7 L498.4,507.2 L498.6,505.7 L498.8,504.2 L499.0,502.7 L499.2,501.2 L499.4,499.7 L499.5,498.2 L499.7,496.8 L499.9,495.3 L500.1,493.8 L500.3,492.3 L500.5,490.8 L500.7,489.3 L500.9,487.8 L501.1,486.4 L501.3,484.9 L501.5,483.4 L501.7,481.9 L501.9,480.4 L502.1,478.9 L502.3,477.5 L502.5,476.0 L502.8,474.5 L503.0,473.0 L503.2,471.5 L503.5,470.0 L503.7,468.6 L504.0,467.1 L504.2,465.6 L504.5,464.1 L504.7,462.7 L505.0,461.2 L505.2,459.7 L505.5,458.2 L505.8,456.8 L506.0,455.3 L506.3,453.8 L506.5,452.3 L506.8,450.8 L507.0,449.4 L507.3,447.9 L507.5,446.4 L507.8,444.9 L508.0,443.4 L508.2,442.0 L508.5,440.5 L508.7,439.0 L508.9,437.5 L509.1,436.0 L509.3,434.5 L509.6,433.1 L509.8,431.6 L510.0,430.1 L510.2,428.6 L510.4,427.1 L510.7,425.6 L510.9,424.2 L511.1,422.7 L511.3,421.2 L511.5,419.7 L511.7,418.2 L511.9,416.7 L512.1,415.3 L512.4,413.8 L512.6,412.3 L512.8,410.8 L513.0,409.3 L513.2,407.8 L513.4,406.3 L513.6,404.9 L513.8,403.4 L514.0,401.9 L514.2,400.4 L514.4,398.9 L514.6,397.4 L514.8,395.9 L515.0,394.5 L515.2,393.0 L515.4,391.5 L515.6,390.0 L515.8,388.5 L516.0,387.0 L516.2,385.5 L516.4,384.1 L516.6,382.6 L516.8,381.1 L517.0,379.6 L517.2,378.1 L517.4,376.6 L517.6,375.1 L517.8,373.7 L518.1,372.2 L518.3,370.7 L518.5,369.2 L518.7,367.7 L518.9,366.2 L519.1,364.7 L519.3,363.3 L519.5,361.8 L519.7,360.3 L519.9,358.8 L520.1,357.3 L520.3,355.8 L520.5,354.3 L520.7,352.9 L520.9,351.4 L521.1,349.9 L521.3,348.4 L521.5,346.9 L521.7,345.4 L521.9,343.9 L522.1,342.5 L522.3,341.0 L522.6,339.5 L522.8,338.0 L523.0,336.5 L523.2,335.0 L523.4,333.6 L523.6,332.1 L523.8,330.6 L524.1,329.1 L524.3,327.6 L524.5,326.1 L524.7,324.7 L524.9,323.2 L525.2,321.7 L525.4,320.2 L525.6,318.7 L525.8,317.2 L526.0,315.8 L526.3,314.3 L526.5,312.8 L526.7,311.3 L527.0,309.8 L527.2,308.4 L527.4,306.9 L527.7,305.4 L527.9,303.9 L528.1,302.4 L528.4,301.0 L528.6,299.5 L528.9,298.0 L529.1,296.5 L529.4,295.0 L529.6,293.6 L529.9,292.1 L530.1,290.6 L530.4,289.1 L530.6,287.7 L530.9,286.2 L531.1,284.7 L531.4,283.2 L531.6,281.7 L531.9,280.3 L532.2,278.8 L532.4,277.3 L532.7,275.8 L533.0,274.4 L533.2,272.9 L533.5,271.4 L533.8,269.9 L534.0,268.5 L534.3,267.0 L534.6,265.5 L534.9,264.0 L535.1,262.6 L535.4,261.1 L535.7,259.6 L536.0,258.1 L536.3,256.7 L536.5,255.2 L536.8,253.7 L537.1,252.3 L537.4,250.8 L537.7,249.3 L538.0,247.8 L538.3,246.4 L538.5,244.9 L538.8,243.4 L539.1,242.0 L539.4,240.5 L539.7,239.0 L540.0,237.6 L540.4,236.1 L540.7,234.6 L541.0,233.1 L541.3,231.7 L541.6,230.2 L541.9,228.7 L542.2,227.3 L542.6,225.8 L542.9,224.3 L543.2,222.9 L543.5,221.4 L543.9,220.0 L544.2,218.5 L544.5,217.0 L544.9,215.6 L545.2,214.1 L545.5,212.6 L545.9,211.2 L546.2,209.7 L546.5,208.3 L546.9,206.8 L547.2,205.3 L547.6,203.9 L547.9,202.4 L548.3,201.0 L548.6,199.5 L549.0,198.1 L549.4,196.6 L549.7,195.1 L550.1,193.7 L550.5,192.2 L550.9,190.8 L551.3,189.3 L551.7,187.9 L552.1,186.4 L552.5,185.0 L552.9,183.5 L553.4,182.1 L553.8,180.7 L554.2,179.2 L554.7,177.8 L555.2,176.3 L555.7,174.9 L556.2,173.5 L556.8,172.1 L557.3,170.7 L557.9,169.3 L558.6,167.9 L559.2,166.5 L560.0,165.2 L560.7,163.9 L561.6,162.6 L562.4,161.4 L563.4,160.3 L564.4,159.2 L565.4,158.2 L566.6,157.3 L567.8,156.5 L569.0,155.7 L570.3,155.1 L571.6,154.6 L573.0,154.2 L574.4,153.8 L575.9,153.6 L577.4,153.4 L578.9,153.3 L580.4,153.3 L581.9,153.3 L583.4,153.3 L584.9,153.4 L586.4,153.5 L588.0,153.6 L589.5,153.8 L591.0,153.9 L592.5,154.1 L594.0,154.3 L595.5,154.4 L597.0,154.6 L598.5,154.8 L600.0,155.0 L601.5,155.1 L602.9,155.3 L604.4,155.5 L605.9,155.7 L607.4,155.9 L608.9,156.1 L610.4,156.3 L611.9,156.5 L613.3,156.8 L614.8,157.0 L616.3,157.2 L617.8,157.5 L619.3,157.7 L620.7,158.0 L622.2,158.3 L623.7,158.5 L625.2,158.8 L626.6,159.1 L628.1,159.4 L629.6,159.7 L631.0,160.0 L632.5,160.3 L634.0,160.6 L635.4,160.9 L636.9,161.2 L638.4,161.5 L639.9,161.8 L641.3,162.1 L642.8,162.3 L644.3,162.6 L645.8,162.9 L647.2,163.1 L648.7,163.4 L650.2,163.7 L651.7,164.0 L653.1,164.2 L654.6,164.5 L656.1,164.8 L657.5,165.2 L659.0,165.5 L660.4,165.9 L661.9,166.2 L663.3,166.6 L664.8,167.0 L666.2,167.5 L667.6,167.9 L669.0,168.4 L670.5,168.9 L671.9,169.4 L673.3,169.9 L674.7,170.4 L676.1,170.9 L677.5,171.4 L678.9,172.0 L680.3,172.5 L681.7,173.0 L683.1,173.6 L684.5,174.1 L686.0,174.7 L687.4,175.2 L688.8,175.7 L690.2,176.2 L691.6,176.8 L693.0,177.3 L694.4,177.8 L695.8,178.3 L697.2,178.7 L698.7,179.2 L700.1,179.6 L701.5,180.1 L703.0,180.5 L704.4,180.8 L705.9,181.2 L707.3,181.6 L708.8,181.9 L710.3,182.2 L711.8,182.5 L713.2,182.8 L714.7,183.0 L716.2,183.2 L717.7,183.4 L719.2,183.6 L720.7,183.7 L722.2,183.8 L723.7,183.9 L725.2,184.0 L726.7,184.0 L728.2,184.0 L729.7,184.0 L731.2,184.0 L732.7,183.9 L734.2,183.9 L735.7,183.8 L737.2,183.6 L738.7,183.5 L740.1,183.3 L741.6,183.2 L743.1,182.9 L744.6,182.7 L746.1,182.5 L747.5,182.2 L749.0,181.9 L750.5,181.6 L751.9,181.2 L753.4,180.8 L754.9,180.5 L756.3,180.1 L757.7,179.6 L759.2,179.2 L760.6,178.8 L762.0,178.3 L763.5,177.8 L764.9,177.3 L766.3,176.8 L767.7,176.3 L769.1,175.7 L770.5,175.2 L771.9,174.7 L773.3,174.1 L774.7,173.6 L776.1,173.0 L777.5,172.4 L778.9,171.9 L780.3,171.4 L781.7,170.8 L783.1,170.3 L784.5,169.8 L785.9,169.2 L787.3,168.7 L788.7,168.2 L790.1,167.7 L791.5,167.3 L793.0,166.8 L794.4,166.3 L795.8,165.9 L797.3,165.4 L798.7,165.0 L800.1,164.6 L801.6,164.2 L803.0,163.8 L804.5,163.4 L805.9,163.1 L807.4,162.7 L808.9,162.4 L810.3,162.1 L811.8,161.8 L813.3,161.5 L814.7,161.2 L816.2,160.9 L817.7,160.7 L819.2,160.5 L820.7,160.2 L822.1,160.0 L823.6,159.9 L825.1,159.7 L826.6,159.6 L828.1,159.4 L829.6,159.3 L831.1,159.2 L832.6,159.1 L834.1,159.1 L835.6,159.0 L837.1,159.0 L838.6,158.9 L840.1,158.9 L841.6,158.9 L843.1,158.8 L844.6,158.8 L846.1,158.8 L847.6,158.8 L849.1,158.7 L850.6,158.7 L852.1,158.6 L853.6,158.6 L855.1,158.5 L856.6,158.5 L858.1,158.4 L859.6,158.4 L861.1,158.3 L862.6,158.2 L864.1,158.2 L865.6,158.1 L867.1,158.0 L868.6,157.8 L870.1,157.7 L871.5,157.6 L873.0,157.4 L874.5,157.2 L876.0,157.0 L877.5,156.8 L879.0,156.6 L880.4,156.4 L881.9,156.1 L883.4,155.9 L884.9,155.6 L886.3,155.3 L887.8,155.0 L889.3,154.7 L890.8,154.4 L892.2,154.1 L893.7,153.7 L895.2,153.4 L896.6,153.1 L898.1,152.7 L899.6,152.4 L901.0,152.1 L902.5,151.8 L903.9,151.4 L905.4,151.1 L906.9,150.8 L908.4,150.5 L909.8,150.3 L911.3,150.0 L912.8,149.8 L914.3,149.5 L915.7,149.3 L917.2,149.1 L918.7,148.9 L920.2,148.7 L921.7,148.5 L923.2,148.3 L924.7,148.2 L926.1,148.0 L927.6,147.9 L929.1,147.7 L930.6,147.6 L932.1,147.4 L933.6,147.3 L935.1,147.2 L936.6,147.0 L938.1,146.9 L939.6,146.8 L941.1,146.7 L942.6,146.6 L944.1,146.5 L945.6,146.4 L947.1,146.4 L948.6,146.3 L950.1,146.3 L951.6,146.3 L953.1,146.2 L954.6,146.2 L956.1,146.3 L957.6,146.3 L959.1,146.3 L960.6,146.3 L962.1,146.4 L963.6,146.4 L965.1,146.5 L966.6,146.5 L968.1,146.6 L969.6,146.7 L971.1,146.7 L972.6,146.8 L974.1,146.9 L975.6,146.9 L977.1,147.0 L978.6,147.1 L980.0,147.1 L981.5,147.2 L983.0,147.3 L984.5,147.3 L986.0,147.4 L987.5,147.5 L989.0,147.5 L990.5,147.6 L992.0,147.7 L993.5,147.8 L995.0,147.8 L996.5,147.9 L998.0,148.0 L999.5,148.1 L1001.0,148.1 L1002.5,148.2 L1004.0,148.3 L1005.5,148.4 L1007.0,148.4 L1008.5,148.5 L1010.0,148.6 L1011.5,148.6 L1013.0,148.7 L1014.5,148.8 L1016.0,148.8 L1017.5,148.9 L1019.0,148.9 L1020.5,149.0 L1022.0,149.0 L1023.5,149.1 L1025.0,149.1 L1026.5,149.2 L1028.0,149.2 L1029.5,149.3 L1031.0,149.3 L1032.5,149.3 L1034.0,149.4 L1035.5,149.4 L1037.0,149.5 L1038.5,149.5 L1040.0,149.6 L1041.5,149.6 L1043.0,149.6 L1044.5,149.7 L1046.0,149.7 L1047.5,149.8 L1049.0,149.8 L1050.5,149.8 L1052.0,149.9 L1053.5,149.9 L1055.0,149.9 L1056.5,150.0 L1058.0,150.0 L1059.5,150.1 L1061.0,150.1 L1062.5,150.2 L1064.0,150.2 L1065.5,150.2 L1067.0,150.3 L1068.5,150.3 L1070.0,150.3 L1071.5,150.4 L1073.0,150.4 L1074.5,150.5 L1076.0,150.5 L1077.5,150.6 L1079.0,150.6 L1080.4,150.7 L1081.9,150.8 L1083.4,150.8 L1084.9,150.9 L1086.4,151.0 L1087.9,151.1 L1089.4,151.3 L1090.9,151.4 L1092.4,151.6 L1093.9,151.7 L1095.4,151.9 L1096.8,152.1 L1098.3,152.4 L1099.8,152.6 L1101.3,152.8 L1102.8,153.1 L1104.3,153.3 L1105.7,153.6 L1107.2,153.8 L1108.7,154.1 L1110.2,154.4 L1111.7,154.6 L1113.1,154.9 L1114.6,155.2 L1116.1,155.5 L1117.5,155.8 L1119.0,156.1 L1120.5,156.4 L1121.9,156.7 L1123.4,157.1 L1124.9,157.4 L1126.3,157.7 L1127.8,158.0 L1129.3,158.4 L1130.7,158.7 L1132.2,159.1 L1133.7,159.5 L1135.1,159.8 L1136.6,160.2 L1138.0,160.6 L1139.5,161.0 L1140.9,161.5 L1142.3,161.9 L1143.7,162.4 L1145.1,162.9 L1146.5,163.4 L1147.9,164.0 L1149.3,164.6 L1150.6,165.2 L1152.0,165.8 L1153.3,166.5 L1154.7,167.2 L1156.0,167.9 L1157.3,168.6 L1158.6,169.3 L1159.9,170.1 L1161.2,170.8 L1162.5,171.6 L1163.8,172.3 L1165.1,173.1 L1166.4,173.9 L1167.7,174.6 L1169.0,175.4 L1170.3,176.1 L1171.6,176.9 L1172.9,177.7 L1174.2,178.4 L1175.5,179.2 L1176.7,180.0 L1178.0,180.7 L1179.3,181.5 L1180.6,182.3 L1181.9,183.0 L1183.2,183.8 L1184.4,184.6 L1185.7,185.4 L1187.0,186.2 L1188.3,187.0 L1189.5,187.8 L1190.8,188.6 L1192.1,189.4 L1193.3,190.2 L1194.6,191.0 L1195.8,191.8 L1197.1,192.7 L1198.3,193.5 L1199.6,194.3 L1200.8,195.1 L1202.1,196.0 L1203.4,196.8 L1204.6,197.6 L1205.8,198.4 L1207.1,199.3 L1208.3,200.1 L1209.6,200.9 L1210.8,201.8 L1212.1,202.6 L1213.3,203.5 L1214.6,204.3 L1215.8,205.1 L1217.1,206.0 L1218.3,206.8 L1219.5,207.7 L1220.8,208.5 L1222.0,209.3 L1223.3,210.2 L1224.5,211.0 L1225.7,211.9 L1227.0,212.7 L1228.2,213.6 L1229.4,214.5 L1230.6,215.3 L1231.9,216.2 L1233.1,217.0 L1234.3,217.9 L1235.5,218.8 L1236.7,219.7 L1238.0,220.6 L1239.2,221.4 L1240.4,222.3 L1241.6,223.2 L1242.8,224.1 L1244.0,225.0 L1245.1,226.0 L1246.3,226.9 L1247.5,227.8 L1248.7,228.7 L1249.9,229.6 L1251.1,230.5 L1252.3,231.4 L1253.5,232.4 L1254.7,233.3 L1255.8,234.2 L1257.0,235.1 L1258.2,236.0 L1259.5,236.9 L1260.7,237.8 L1261.9,238.6 L1263.1,239.5 L1264.3,240.4 L1265.5,241.2 L1266.8,242.1 L1268.0,243.0 L1269.2,243.8 L1270.5,244.7 L1271.7,245.5 L1272.9,246.4 L1274.2,247.2 L1275.4,248.1 L1276.6,249.0 L1277.8,249.9 L1279.0,250.8 L1280.2,251.7 L1281.4,252.6 L1282.6,253.5 L1283.7,254.5 L1284.9,255.4 L1286.0,256.4 L1287.1,257.4 L1288.2,258.4 L1289.4,259.4 L1290.5,260.4 L1291.6,261.4 L1292.7,262.4 L1293.8,263.4 L1295.0,264.4 L1296.1,265.4 L1297.2,266.3 L1298.4,267.3 L1299.5,268.2 L1300.7,269.2 L1301.9,270.1 L1303.0,271.1 L1304.2,272.0 L1305.4,272.9 L1306.6,273.8 L1307.8,274.7 L1309.0,275.6 L1310.2,276.6 L1311.3,277.5 L1312.5,278.4 L1313.7,279.3 L1314.9,280.2 L1316.1,281.1 L1317.3,282.1 L1318.4,283.0 L1319.6,283.9 L1320.8,284.9 L1322.0,285.8 L1323.1,286.8 L1324.3,287.7 L1325.4,288.7 L1326.6,289.6 L1327.7,290.6 L1328.9,291.5 L1330.1,292.5 L1331.2,293.5 L1332.3,294.4 L1333.5,295.4 L1334.6,296.4 L1335.8,297.3 L1336.9,298.3 L1338.1,299.3 L1339.2,300.3 L1340.3,301.2 L1341.5,302.2 L1342.6,303.2 L1350.1,314.7 L1351.2,315.7 L1352.4,316.7 L1353.5,317.7 L1354.6,318.7 L1355.7,319.7 L1356.8,320.7 L1357.9,321.7 L1359.0,322.7 L1360.1,323.7 L1361.2,324.7 L1362.3,325.8 L1363.4,326.8 L1364.5,327.8 L1365.6,328.8 L1366.7,329.9 L1367.7,330.9 L1368.8,331.9 L1369.9,333.0 L1371.0,334.0 L1372.1,335.1 L1373.1,336.1 L1374.2,337.2 L1375.3,338.2 L1376.3,339.3 L1377.4,340.3 L1378.5,341.4 L1379.5,342.5 L1380.6,343.5 L1381.6,344.6 L1382.6,345.7 L1383.7,346.8 L1384.7,347.9 L1385.7,349.0 L1386.7,350.1 L1387.7,351.2 L1388.7,352.3 L1389.6,353.5 L1390.6,354.6 L1391.5,355.8 L1392.5,356.9 L1393.4,358.1 L1394.3,359.3 L1395.3,360.4 L1396.2,361.6 L1397.1,362.8 L1398.0,364.0 L1398.8,365.2 L1399.7,366.5 L1400.6,367.7 L1401.5,368.9 L1402.3,370.1 L1403.2,371.4 L1404.0,372.6 L1404.9,373.8 L1405.7,375.1 L1406.6,376.3 L1407.4,377.5 L1408.3,378.8 L1409.1,380.0 L1409.9,381.3 L1410.8,382.5 L1411.6,383.8 L1412.4,385.0 L1413.2,386.3 L1414.0,387.5 L1414.9,388.8 L1415.7,390.1 L1416.5,391.3 L1417.3,392.6 L1418.1,393.9 L1418.8,395.1 L1419.6,396.4 L1420.4,397.7 L1421.2,399.0 L1422.0,400.3 L1422.7,401.5 L1423.5,402.8 L1424.2,404.1 L1425.0,405.4 L1425.7,406.7 L1426.5,408.0 L1427.2,409.3 L1427.9,410.6 L1428.7,411.9 L1429.4,413.2 L1430.1,414.6 L1430.8,415.9 L1431.5,417.2 L1432.3,418.5 L1433.0,419.8 L1433.7,421.2 L1434.3,422.5 L1435.0,423.8 L1435.7,425.2 L1436.4,426.5 L1437.1,427.8 L1437.7,429.2 L1438.4,430.5 L1439.1,431.9 L1439.7,433.2 L1440.3,434.6 L1441.0,435.9 L1441.6,437.3 L1442.2,438.6 L1442.9,440.0 L1443.5,441.4 L1444.1,442.7 L1444.7,444.1 L1445.3,445.5 L1445.9,446.8 L1446.5,448.2 L1447.1,449.6 L1447.6,451.0 L1448.2,452.4 L1448.8,453.7 L1449.4,455.1 L1449.9,456.5 L1450.5,457.9 L1451.0,459.3 L1451.6,460.7 L1452.1,462.1 L1452.7,463.5 L1453.2,464.9 L1453.8,466.3 L1454.3,467.7 L1454.8,469.1 L1455.4,470.5 L1455.9,471.9 L1456.4,473.3 L1456.9,474.7 L1457.4,476.1 L1458.0,477.5 L1458.5,478.9 L1459.0,480.3 L1459.5,481.7 L1460.0,483.1 L1460.5,484.5 L1461.0,485.9 L1461.5,487.4 L1462.0,488.8 L1462.5,490.2 L1463.0,491.6 L1463.4,493.0 L1463.9,494.4 L1464.4,495.9 L1464.9,497.3 L1465.4,498.7 L1465.9,500.1 L1466.3,501.5 L1466.8,502.9 L1467.3,504.4 L1467.8,505.8 L1468.2,507.2 L1468.7,508.6 L1469.2,510.0 L1469.6,511.5 L1470.1,512.9 L1470.6,514.3 L1471.1,515.7 L1471.5,517.2 L1472.0,518.6 L1472.5,520.0 L1472.9,521.4 L1473.4,522.8 L1473.9,524.3 L1474.4,525.7 L1474.8,527.1 L1475.3,528.5 L1475.8,529.9 L1476.3,531.4 L1476.7,532.8 L1477.2,534.2 L1477.7,535.6 L1478.1,537.1 L1478.6,538.5 L1479.0,539.9 L1479.4,541.4 L1479.9,542.8 L1480.3,544.2 L1480.7,545.7 L1481.1,547.1 L1481.4,548.6 L1481.8,550.0 L1482.2,551.5 L1482.5,552.9 L1482.8,554.4 L1483.2,555.8 L1483.5,557.3 L1483.8,558.7 L1484.1,560.2 L1484.4,561.7 L1484.7,563.1 L1485.0,564.6 L1485.3,566.1 L1485.6,567.5 L1485.9,569.0 L1486.2,570.5 L1486.5,572.0 L1486.8,573.4 L1487.1,574.9 L1487.4,576.4 L1487.6,577.8 L1487.9,579.3 L1488.2,580.8 L1488.5,582.2 L1488.8,583.7 L1489.1,585.2 L1489.4,586.7 L1489.7,588.1 L1490.1,589.6 L1490.4,591.0 L1490.7,592.5 L1491.0,594.0 L1491.4,595.4 L1491.7,596.9 L1492.0,598.3 L1492.4,599.8 L1492.7,601.3 L1493.1,602.7 L1493.5,604.2 L1493.8,605.6 L1494.2,607.1 L1494.6,608.5 L1494.9,610.0 L1495.3,611.4 L1495.7,612.9 L1496.1,614.3 L1496.4,615.8 L1496.8,617.2 L1497.2,618.7 L1497.6,620.1 L1497.9,621.6 L1498.3,623.0 L1498.7,624.5 L1499.1,625.9 L1499.4,627.4 L1499.8,628.8 L1500.2,630.3 L1500.5,631.7 L1500.9,633.2 L1501.3,634.6 L1501.6,636.1 L1502.0,637.5 L1502.3,639.0 L1502.7,640.4 L1503.0,641.9 L1503.4,643.4 L1503.7,644.8 L1504.0,646.3 L1504.4,647.7 L1504.7,649.2 L1505.0,650.7 L1505.3,652.1 L1505.7,653.6 L1506.0,655.0 L1506.3,656.5 L1506.6,658.0 L1506.9,659.4 L1507.2,660.9 L1507.5,662.4 L1507.8,663.8 L1508.1,665.3 L1508.4,666.8 L1508.7,668.2 L1509.0,669.7 L1509.3,671.2 L1509.6,672.6 L1509.9,674.1 L1510.2,675.6 L1510.5,677.1 L1510.8,678.5 L1511.1,680.0 L1511.3,681.5 L1511.6,682.9 L1511.9,684.4 L1512.2,685.9 L1512.5,687.3 L1512.7,688.8 L1513.0,690.3 L1513.3,691.8 L1513.6,693.2 L1513.8,694.7 L1514.1,696.2 L1514.4,697.7 L1514.6,699.1 L1514.9,700.6 L1515.1,702.1 L1515.4,703.5 L1515.6,705.0 L1515.9,706.5 L1516.1,708.0 L1516.4,709.5 L1516.6,710.9 L1516.9,712.4 L1517.1,713.9 L1517.3,715.4 L1517.6,716.8 L1517.8,718.3 L1518.1,719.8 L1518.3,721.3 L1518.5,722.8 L1518.8,724.2 L1519.0,725.7 L1519.3,727.2 L1519.5,728.7 L1519.7,730.1 L1520.0,731.6 L1520.2,733.1 L1520.5,734.6 L1520.7,736.1 L1521.0,737.5 L1521.2,739.0 L1521.5,740.5 L1521.7,742.0 L1522.0,743.4 L1522.3,744.9 L1522.5,746.4 L1522.8,747.9 L1523.0,749.3 L1523.3,750.8 L1523.6,752.3 L1523.8,753.8 L1524.1,755.2 L1524.4,756.7 L1524.7,758.2 L1524.9,759.6 L1525.2,761.1 L1525.5,762.6 L1525.8,764.0 L1526.1,765.5 L1526.4,767.0 L1526.7,768.4 L1527.0,769.9 L1527.3,771.4 L1527.6,772.8 L1527.9,774.3 L1528.3,775.8 L1528.6,777.2 L1528.9,778.7 L1529.3,780.2 L1529.6,781.6 L1529.9,783.1 L1530.3,784.5 L1530.7,786.0 L1531.0,787.4 L1531.4,788.9 L1531.8,790.3 L1532.1,791.8 L1532.5,793.2 L1532.9,794.7 L1533.3,796.1 L1533.7,797.6 L1534.2,799.0 L1534.6,800.5 L1535.0,801.9 L1535.5,803.3 L1536.0,804.8 L1536.4,806.2 L1536.9,807.7 L1537.4,809.1 L1538.0,810.6 L1538.5,812.0 L1539.1,813.4 L1539.8,814.8 L1540.4,816.2 L1541.1,817.5 L1541.9,818.7 L1542.7,819.9 L1543.6,821.0 L1544.6,822.0 L1545.6,822.8 L1546.8,823.5 L1547.9,824.1 L1549.2,824.6 L1550.5,824.9 L1551.9,825.1 L1553.3,825.2 L1554.7,825.2 L1556.2,825.1 L1557.7,825.0 L1559.2,824.9 L1560.7,824.9 L1562.1,824.8 L1563.6,824.9 L1565.1,825.0 L1566.5,825.2 L1568.0,825.4 L1569.4,825.8 L1570.8,826.3 L1572.2,826.8 L1573.5,827.4 L1574.9,828.1 L1576.2,828.9 L1577.5,829.7 L1578.9,830.4 L1580.2,831.2 L1581.5,832.0 L1582.9,832.8 L1584.3,833.5 L1585.6,834.1 L1587.0,834.6 L1588.4,834.9 L1589.7,835.2 L1591.1,835.3 L1592.4,835.2 L1593.6,834.9 L1594.8,834.5 L1595.9,833.9 L1597.0,833.2 L1597.9,832.3 L1598.8,831.2 L1599.6,830.1 L1600.4,828.8 L1601.0,827.5 L1601.6,826.1 L1602.2,824.7 L1602.7,823.2 L1603.2,821.7 L1603.6,820.2 L1604.1,818.6 L1604.5,817.1 L1604.9,815.6 L1605.3,814.1 L1605.7,812.7 L1606.2,811.2 L1606.6,809.7 L1607.0,808.3 L1607.4,806.8 L1607.8,805.4 L1608.2,803.9 L1608.5,802.5 L1608.9,801.0 L1609.3,799.6 L1609.7,798.1 L1610.0,796.7 L1610.4,795.2 L1610.7,793.8 L1611.1,792.3 L1611.4,790.9 L1611.8,789.4 L1612.1,788.0 L1612.5,786.5 L1612.8,785.0 L1613.1,783.6 L1613.5,782.1 L1613.8,780.7 L1614.2,779.2 L1614.5,777.8 L1614.9,776.3 L1615.2,774.8 L1615.6,773.4 L1616.0,771.9 L1616.3,770.5 L1616.7,769.0 L1617.0,767.6 L1617.4,766.1 L1617.8,764.7 L1618.1,763.2 L1618.5,761.8 L1618.9,760.3 L1619.2,758.9 L1619.6,757.4 L1620.0,756.0 L1620.3,754.5 L1620.7,753.1 L1621.1,751.6 L1621.4,750.2 L1621.8,748.7 L1622.2,747.3 L1622.5,745.8 L1622.9,744.4 L1623.3,742.9 L1623.6,741.5 L1624.0,740.0"/>
<path class="crv" stroke="#0000ff" d="M248.0,477.3 L249.5,477.3 L251.0,477.3 L252.5,477.3 L254.0,477.4 L255.5,477.4 L257.0,477.5 L258.5,477.6 L260.0,477.7 L261.5,477.8 L263.0,477.9 L264.5,478.0 L265.9,478.1 L267.4,478.2 L268.9,478.3 L270.4,478.5 L271.9,478.6 L273.4,478.8 L274.9,479.0 L276.4,479.2 L277.8,479.4 L279.3,479.6 L280.8,479.9 L282.3,480.1 L283.7,480.4 L285.2,480.7 L286.6,481.0 L288.1,481.3 L289.6,481.7 L291.0,482.1 L292.5,482.4 L293.9,482.8 L295.3,483.3 L296.8,483.7 L298.2,484.1 L299.6,484.6 L301.1,485.0 L302.5,485.5 L303.9,486.0 L305.3,486.5 L306.7,487.0 L308.1,487.5 L309.5,488.1 L310.9,488.6 L312.3,489.2 L313.7,489.7 L315.1,490.3 L316.5,490.9 L317.8,491.4 L319.2,492.0 L320.6,492.6 L321.9,493.3 L323.3,493.9 L324.7,494.5 L326.0,495.1 L327.4,495.8 L328.7,496.4 L330.1,497.1 L331.4,497.8 L332.7,498.4 L334.1,499.1 L335.4,499.8 L336.7,500.5 L338.0,501.3 L339.3,502.0 L340.6,502.7 L341.9,503.5 L343.2,504.2 L344.5,505.0 L345.8,505.8 L347.0,506.6 L348.3,507.4 L349.5,508.2 L350.8,509.0 L352.0,509.9 L353.2,510.7 L354.5,511.6 L355.7,512.5 L356.9,513.3 L358.1,514.2 L359.3,515.1 L360.5,516.0 L361.7,517.0 L362.8,517.9 L364.0,518.8 L365.2,519.8 L366.3,520.8 L367.4,521.8 L368.5,522.8 L369.6,523.8 L370.7,524.8 L371.8,525.8 L372.9,526.9 L373.9,528.0 L374.9,529.0 L376.0,530.1 L377.0,531.2 L378.0,532.4 L378.9,533.5 L379.9,534.6 L380.8,535.8 L381.8,537.0 L382.7,538.1 L383.6,539.3 L384.5,540.5 L385.4,541.7 L386.3,542.9 L387.1,544.2 L388.0,545.4 L388.8,546.6 L389.6,547.9 L390.5,549.1 L391.3,550.4 L392.1,551.6 L392.9,552.9 L393.7,554.2 L394.5,555.4 L395.3,556.7 L396.1,558.0 L396.9,559.3 L397.6,560.5 L398.4,561.8 L399.2,563.1 L399.9,564.4 L400.7,565.7 L401.4,567.0 L402.2,568.3 L402.9,569.6 L403.6,570.9 L404.4,572.2 L405.1,573.5 L405.8,574.8 L406.6,576.1 L407.3,577.4 L408.0,578.7 L408.7,580.1 L409.4,581.4 L410.1,582.7 L410.8,584.0 L411.5,585.3 L412.2,586.7 L412.9,588.0 L413.6,589.3 L414.3,590.6 L415.0,592.0 L415.7,593.3 L416.4,594.6 L417.1,595.9 L417.8,597.2 L418.5,598.6 L419.2,599.9 L420.0,601.2 L420.7,602.5 L421.4,603.8 L422.2,605.1 L422.9,606.4 L423.7,607.7 L424.4,609.0 L425.2,610.2 L426.0,611.5 L426.7,612.8 L427.5,614.1 L428.3,615.4 L429.1,616.6 L429.9,617.9 L430.7,619.1 L431.5,620.4 L432.4,621.6 L433.2,622.9 L434.1,624.1 L434.9,625.3 L435.8,626.5 L436.7,627.8 L437.5,629.0 L438.4,630.2 L439.3,631.4 L440.2,632.6 L441.0,633.8 L441.9,635.1 L442.8,636.3 L443.6,637.5 L444.4,638.8 L445.3,640.0 L446.1,641.3 L446.9,642.5 L447.6,643.8 L448.4,645.1 L449.2,646.4 L449.9,647.7 L450.6,649.0 L451.3,650.3 L452.0,651.6 L452.7,653.0 L453.4,654.3 L454.1,655.6 L454.7,657.0 L455.4,658.3 L456.0,659.7 L456.6,661.0 L457.2,662.4 L457.8,663.8 L458.4,665.2 L458.9,666.5 L459.5,667.9 L460.1,669.3 L460.6,670.7 L461.2,672.1 L461.7,673.5 L462.3,674.9 L462.9,676.2 L463.5,677.6 L464.0,679.0 L464.6,680.4 L465.2,681.8 L465.8,683.1 L466.4,684.5 L467.0,685.9 L467.6,687.2 L468.2,688.6 L468.8,690.0 L469.4,691.3 L470.0,692.7 L470.5,694.1 L471.1,695.5 L471.6,696.9 L472.1,698.3 L472.6,699.7 L473.1,701.1 L473.6,702.5 L474.1,704.0 L474.6,705.4 L475.0,706.8 L475.5,708.2 L475.9,709.7 L476.3,711.1 L476.8,712.5 L477.2,714.0 L477.6,715.4 L478.0,716.8 L478.4,718.3 L478.8,719.7 L479.2,721.2 L479.6,722.6 L480.0,724.1 L480.4,725.5 L480.8,726.9 L481.2,728.4 L481.5,729.8 L481.9,731.3 L482.3,732.7 L482.6,734.2 L483.0,735.6 L483.4,737.1 L483.7,738.5 L484.1,740.0 L484.5,741.4 L484.8,742.9 L485.2,744.3 L485.6,745.8 L485.9,747.2 L486.3,748.7 L486.6,750.1 L487.0,751.6 L487.4,753.1 L487.7,754.5 L488.1,756.0 L488.4,757.4 L488.8,758.9 L489.2,760.3 L489.5,761.8 L489.9,763.2 L490.2,764.7 L490.6,766.1 L491.0,767.6 L491.4,769.0 L491.8,770.5 L492.1,771.9 L492.5,773.3 L492.9,774.8 L493.3,776.2 L493.7,777.7 L494.1,779.1 L494.5,780.5 L495.0,782.0 L495.4,783.4 L495.8,784.9 L496.2,786.3 L496.6,787.7 L497.0,789.2 L497.3,790.6 L497.7,792.1 L498.1,793.5 L498.5,795.0 L498.8,796.4 L499.2,797.9 L499.6,799.3 L499.9,800.8 L500.3,802.2 L500.6,803.7 L501.0,805.1 L501.4,806.6 L501.8,808.0 L502.1,809.5 L502.5,810.9 L502.9,812.4 L503.3,813.8 L503.8,815.2 L504.2,816.7 L504.6,818.1 L505.0,819.5 L505.5,821.0 L505.9,822.4 L506.4,823.8 L506.8,825.2 L507.3,826.7 L507.7,828.1 L508.1,829.5 L508.6,831.0 L509.0,832.4 L509.4,833.8 L509.8,835.3 L510.3,836.7 L510.7,838.1 L511.1,839.6 L511.5,841.0 L512.0,842.4 L512.4,843.9 L512.8,845.3 L513.3,846.7 L513.7,848.2 L514.2,849.6 L514.7,851.0 L515.2,852.4 L515.7,853.8 L516.2,855.2 L516.7,856.6 L517.2,858.0 L517.8,859.4 L518.4,860.8 L519.0,862.2 L519.5,863.5 L520.1,864.9 L520.8,866.3 L521.4,867.6 L522.0,869.0 L523.2,868.1 L524.4,867.1 L525.5,866.1 L526.6,865.1 L527.6,864.0 L528.6,862.9 L529.6,861.7 L530.5,860.6 L531.4,859.4 L532.3,858.1 L533.1,856.9 L533.9,855.6 L534.7,854.3 L535.4,853.0 L536.1,851.7 L536.8,850.4 L537.4,849.0 L538.0,847.7 L538.6,846.3 L539.2,844.9 L539.7,843.5 L540.3,842.1 L540.8,840.7 L541.4,839.3 L541.9,837.9 L542.5,836.5 L543.0,835.1 L543.6,833.7 L544.1,832.3 L544.7,830.9 L545.3,829.5 L545.9,828.2 L546.5,826.8 L547.1,825.4 L547.7,824.1 L548.4,822.7 L549.0,821.3 L549.6,820.0 L550.2,818.6 L550.9,817.2 L551.5,815.9 L552.1,814.5 L552.8,813.2 L553.4,811.8 L554.0,810.4 L554.6,809.1 L555.3,807.7 L555.9,806.3 L556.5,805.0 L557.2,803.6 L557.8,802.3 L558.5,800.9 L559.2,799.6 L559.9,798.2 L560.6,796.9 L561.3,795.6 L562.0,794.3 L562.8,793.0 L563.5,791.7 L564.3,790.4 L565.1,789.1 L566.0,787.9 L566.9,786.6 L567.8,785.4 L568.7,784.3 L569.6,783.1 L570.6,782.0 L571.7,780.9 L572.7,779.9 L573.8,778.9 L575.0,777.9 L576.1,777.0 L577.3,776.1 L578.5,775.3 L579.8,774.4 L581.0,773.6 L582.3,772.9 L583.6,772.1 L585.0,771.4 L586.3,770.7 L587.6,770.0 L589.0,769.3 L590.3,768.6 L591.7,768.0 L593.0,767.3 L594.4,766.7 L595.8,766.0 L597.1,765.4 L598.5,764.8 L599.9,764.2 L601.3,763.6 L602.7,763.0 L604.1,762.4 L605.5,761.9 L606.9,761.3 L608.3,760.8 L609.7,760.3 L611.1,759.9 L612.5,759.4 L613.9,759.0 L615.4,758.5 L616.8,758.1 L618.3,757.7 L619.7,757.3 L621.2,757.0 L622.6,756.6 L624.1,756.2 L625.5,755.9 L627.0,755.5 L628.4,755.2 L629.9,754.8 L631.4,754.5 L632.8,754.1 L634.3,753.7 L635.8,753.4 L637.2,753.0 L638.7,752.7 L640.1,752.3 L641.6,751.9 L643.0,751.6 L644.5,751.2 L646.0,750.9 L647.4,750.5 L648.9,750.2 L650.3,749.8 L651.8,749.5 L653.3,749.2 L654.7,748.9 L656.2,748.6 L657.7,748.3 L659.2,748.1 L660.7,747.8 L662.1,747.6 L663.6,747.4 L665.1,747.2 L666.6,747.1 L668.1,746.9 L669.6,746.8 L671.1,746.7 L672.6,746.6 L674.1,746.6 L675.6,746.6 L677.1,746.6 L678.6,746.7 L680.1,746.8 L681.6,746.9 L683.1,747.0 L684.6,747.2 L686.1,747.5 L687.5,747.7 L689.0,748.0 L690.4,748.4 L691.9,748.8 L693.3,749.2 L694.7,749.7 L696.1,750.2 L697.5,750.7 L698.9,751.2 L700.3,751.8 L701.7,752.4 L703.1,753.0 L704.5,753.6 L705.8,754.3 L707.2,754.9 L708.6,755.6 L709.9,756.2 L711.3,756.9 L712.6,757.6 L713.9,758.3 L715.3,759.0 L716.6,759.7 L717.9,760.4 L719.2,761.2 L720.5,761.9 L721.7,762.7 L723.0,763.5 L724.2,764.3 L725.5,765.2 L726.7,766.0 L728.0,766.9 L729.2,767.7 L730.4,768.6 L731.6,769.5 L732.8,770.4 L734.0,771.3 L735.2,772.2 L736.4,773.1 L737.6,774.0 L738.8,774.9 L740.0,775.8 L741.2,776.8 L742.4,777.7 L743.6,778.6 L744.8,779.5 L746.0,780.4 L747.2,781.3 L748.4,782.2 L749.6,783.1 L750.8,784.0 L752.0,784.9 L753.3,785.8 L754.6,786.6 L755.8,787.4 L757.1,788.2 L758.4,789.0 L759.8,789.7 L761.1,790.4 L762.5,791.0 L763.9,791.6 L765.3,792.1 L766.7,792.5 L768.2,792.9 L769.6,793.2 L771.1,793.4 L772.5,793.5 L774.0,793.5 L775.4,793.4 L776.9,793.2 L778.3,793.0 L779.8,792.6 L781.2,792.1 L782.6,791.6 L784.0,791.0 L785.3,790.3 L786.6,789.6 L788.0,788.8 L789.2,787.9 L790.5,787.1 L791.7,786.2 L792.9,785.2 L794.1,784.2 L795.2,783.2 L796.3,782.2 L797.4,781.2 L798.6,780.2 L799.7,779.1 L800.8,778.1 L801.9,777.1 L803.0,776.0 L804.1,775.0 L805.2,774.0 L806.3,773.0 L807.4,772.0 L808.6,771.0 L809.7,770.0 L810.9,769.1 L812.1,768.1 L813.3,767.2 L814.5,766.3 L815.7,765.5 L817.0,764.6 L818.2,763.8 L819.5,763.1 L820.9,762.4 L822.2,761.7 L823.6,761.1 L825.0,760.6 L826.4,760.1 L827.9,759.7 L829.3,759.3 L830.8,759.0 L832.3,758.8 L833.7,758.7 L835.2,758.6 L836.7,758.6 L838.2,758.7 L839.7,758.8 L841.2,759.1 L842.7,759.3 L844.1,759.7 L845.6,760.1 L847.0,760.6 L848.4,761.2 L849.8,761.8 L851.1,762.5 L852.4,763.2 L853.7,764.0 L854.9,764.8 L856.2,765.7 L857.3,766.6 L858.5,767.6 L859.6,768.6 L860.7,769.7 L861.7,770.8 L862.7,771.9 L863.7,773.0 L864.7,774.1 L865.6,775.3 L866.6,776.5 L867.5,777.7 L868.4,778.9 L869.4,780.1 L870.3,781.3 L871.2,782.5 L872.1,783.7 L873.0,784.9 L873.9,786.1 L874.8,787.3 L875.6,788.5 L876.5,789.8 L877.3,791.0 L878.1,792.3 L878.9,793.5 L879.7,794.8 L880.4,796.1 L881.2,797.4 L881.9,798.7 L882.6,800.0 L883.3,801.3 L884.1,802.7 L884.8,804.0 L885.5,805.3 L886.2,806.6 L887.0,807.9 L887.7,809.2 L888.4,810.6 L889.1,811.9 L889.8,813.2 L890.5,814.5 L891.2,815.9 L891.8,817.2 L892.4,818.6 L893.1,819.9 L893.7,821.3 L894.2,822.7 L894.8,824.1 L895.4,825.5 L895.9,826.9 L896.5,828.3 L897.0,829.7 L897.6,831.1 L898.1,832.5 L898.6,833.9 L899.2,835.3 L899.7,836.7 L900.3,838.1 L900.8,839.5 L901.4,840.9 L901.9,842.2 L902.4,843.6 L903.0,845.0 L903.5,846.5 L904.0,847.9 L904.6,849.3 L905.1,850.7 L905.6,852.1 L906.1,853.5 L906.7,854.9 L907.2,856.3 L907.7,857.7 L908.2,859.1 L908.7,860.5 L909.2,861.9 L909.7,863.4 L910.2,864.8 L910.6,866.2 L911.1,867.6 L911.6,869.1 L912.0,870.5 L912.5,871.9 L913.0,873.3 L913.4,874.8 L913.8,876.2 L914.3,877.6 L914.7,879.1 L915.1,880.5 L915.6,881.9 L916.0,883.4 L916.4,884.8 L916.9,886.3 L917.3,887.7 L917.7,889.1 L918.1,890.6 L918.6,892.0 L919.0,893.4 L919.4,894.9 L919.9,896.3 L920.3,897.7 L920.8,899.2 L921.2,900.6 L921.6,902.1 L922.1,903.5 L922.5,904.9 L923.0,906.4 L923.4,907.8 L923.9,909.2 L924.3,910.7 L924.7,912.1 L925.2,913.5 L925.6,915.0 L926.1,916.4 L926.5,917.8 L927.0,919.3 L927.5,920.7 L927.9,922.1 L928.4,923.5 L928.9,924.9 L929.4,926.4 L930.0,927.8 L930.5,929.1 L931.1,930.5 L931.7,931.9 L932.3,933.2 L933.0,934.6 L933.7,935.9 L934.4,937.2 L935.1,938.5 L935.9,939.8 L936.7,941.1 L937.6,942.3 L938.5,943.5 L939.5,944.6 L940.6,945.7 L941.6,946.8 L942.5,945.6 L943.4,944.4 L944.3,943.2 L945.2,942.0 L946.1,940.8 L947.1,939.6 L948.0,938.5 L949.0,937.3 L950.0,936.2 L950.9,935.0 L951.8,933.8 L952.6,932.5 L953.3,931.3 L954.0,930.0 L954.7,928.7 L955.3,927.3 L956.0,926.0 L956.5,924.6 L957.1,923.2 L957.6,921.8 L958.1,920.4 L958.5,919.0 L959.0,917.6 L959.5,916.1 L959.9,914.7 L960.4,913.2 L960.8,911.8 L961.3,910.4 L961.7,908.9 L962.2,907.5 L962.7,906.1 L963.1,904.6 L963.6,903.2 L964.1,901.8 L964.6,900.4 L965.1,898.9 L965.5,897.5 L966.0,896.1 L966.5,894.7 L967.0,893.3 L967.5,891.9 L968.0,890.4 L968.5,889.0 L968.9,887.6 L969.4,886.2 L969.9,884.8 L970.4,883.4 L970.9,881.9 L971.4,880.5 L971.9,879.1 L972.4,877.7 L972.9,876.3 L973.4,874.9 L973.9,873.5 L974.4,872.0 L974.9,870.6 L975.4,869.2 L975.9,867.8 L976.4,866.4 L976.9,865.0 L977.5,863.6 L978.0,862.2 L978.5,860.8 L979.0,859.4 L979.6,858.0 L980.1,856.6 L980.6,855.2 L981.2,853.8 L981.7,852.4 L982.3,851.0 L982.8,849.6 L983.4,848.2 L983.9,846.8 L984.5,845.4 L985.1,844.0 L985.7,842.7 L986.3,841.3 L986.9,839.9 L987.5,838.5 L988.1,837.2 L988.7,835.8 L989.4,834.5 L990.0,833.1 L990.7,831.8 L991.4,830.4 L992.1,829.1 L992.8,827.8 L993.5,826.5 L994.2,825.2 L994.9,823.8 L995.6,822.5 L996.4,821.2 L997.1,819.9 L997.8,818.6 L998.6,817.3 L999.3,816.0 L1000.0,814.7 L1000.8,813.4 L1001.5,812.1 L1002.2,810.7 L1002.9,809.4 L1003.7,808.1 L1004.4,806.8 L1005.1,805.5 L1005.9,804.2 L1006.6,802.9 L1007.4,801.6 L1008.1,800.3 L1008.9,799.0 L1009.7,797.7 L1010.5,796.5 L1011.2,795.2 L1012.1,793.9 L1012.9,792.7 L1013.7,791.4 L1014.5,790.2 L1015.4,788.9 L1016.2,787.7 L1017.1,786.5 L1018.0,785.2 L1018.8,784.0 L1019.7,782.8 L1020.6,781.6 L1021.5,780.4 L1022.5,779.2 L1023.4,778.0 L1024.3,776.8 L1025.3,775.7 L1026.2,774.5 L1027.2,773.3 L1028.2,772.2 L1029.2,771.1 L1030.2,769.9 L1031.2,768.8 L1032.3,767.8 L1033.3,766.7 L1034.4,765.7 L1035.4,764.6 L1036.5,763.6 L1037.6,762.6 L1038.7,761.6 L1039.9,760.7 L1041.0,759.7 L1042.2,758.8 L1043.4,757.9 L1044.6,757.0 L1045.8,756.1 L1047.1,755.2 L1048.3,754.3 L1049.6,753.5 L1050.8,752.7 L1052.1,751.9 L1053.4,751.1 L1054.7,750.4 L1056.1,749.6 L1057.4,748.9 L1058.7,748.2 L1060.1,747.6 L1061.4,746.9 L1062.8,746.3 L1064.1,745.7 L1065.5,745.2 L1066.9,744.6 L1068.3,744.1 L1069.7,743.6 L1071.1,743.1 L1072.6,742.6 L1074.0,742.2 L1075.5,741.8 L1076.9,741.4 L1078.4,741.0 L1079.8,740.6 L1081.3,740.3 L1082.8,740.0 L1084.3,739.7 L1085.8,739.4 L1087.2,739.2 L1088.7,739.0 L1090.2,738.8 L1091.7,738.7 L1093.2,738.6 L1094.7,738.5 L1096.2,738.5 L1097.7,738.5 L1099.2,738.6 L1100.7,738.7 L1102.1,738.9 L1103.6,739.1 L1105.1,739.4 L1106.5,739.7 L1108.0,740.0 L1109.5,740.4 L1110.9,740.7 L1112.4,741.2 L1113.8,741.6 L1115.2,742.0 L1116.7,742.5 L1118.1,742.9 L1119.5,743.4 L1121.0,743.9 L1122.4,744.4 L1123.8,744.9 L1125.2,745.4 L1126.6,746.0 L1128.0,746.5 L1129.4,747.1 L1130.8,747.7 L1132.1,748.3 L1133.5,748.9 L1134.9,749.6 L1136.2,750.3 L1137.5,751.0 L1138.9,751.7 L1140.2,752.4 L1141.5,753.2 L1142.8,753.9 L1144.1,754.7 L1145.3,755.5 L1146.6,756.4 L1147.8,757.2 L1149.0,758.1 L1150.2,759.0 L1151.3,759.9 L1152.5,760.8 L1153.6,761.8 L1154.7,762.7 L1155.8,763.7 L1156.9,764.7 L1158.0,765.8 L1159.1,766.8 L1160.1,767.9 L1161.2,769.0 L1162.2,770.1 L1163.2,771.2 L1164.3,772.3 L1165.3,773.4 L1166.3,774.5 L1167.3,775.6 L1168.4,776.7 L1169.4,777.8 L1170.4,778.9 L1171.5,780.0 L1172.5,781.1 L1173.6,782.2 L1174.6,783.3 L1175.7,784.3 L1176.7,785.4 L1177.8,786.5 L1178.9,787.5 L1179.9,788.6 L1181.0,789.7 L1182.1,790.7 L1183.1,791.8 L1184.2,792.8 L1185.3,793.9 L1186.4,794.9 L1187.4,795.9 L1188.5,797.0 L1189.6,798.0 L1190.7,799.1 L1191.8,800.1 L1192.9,801.1 L1194.0,802.1 L1195.1,803.1 L1196.2,804.1 L1197.3,805.1 L1198.5,806.1 L1199.6,807.1 L1200.7,808.0 L1201.9,809.0 L1203.1,809.9 L1204.2,810.8 L1205.4,811.8 L1206.6,812.7 L1207.8,813.6 L1209.0,814.5 L1210.2,815.4 L1211.4,816.3 L1212.6,817.1 L1213.8,818.0 L1215.0,818.9 L1216.3,819.8 L1217.5,820.7 L1218.7,821.6 L1219.9,822.4 L1221.1,823.3 L1222.3,824.2 L1223.5,825.1 L1224.7,826.0 L1225.9,827.0 L1227.0,827.9 L1228.2,828.8 L1229.4,829.8 L1230.5,830.8 L1231.7,831.7 L1232.8,832.7 L1237.8,840.3 L1239.0,841.3 L1240.2,842.2 L1241.5,843.1 L1242.8,843.8 L1244.2,844.4 L1245.6,844.9 L1247.0,845.3 L1248.5,845.6 L1250.0,845.8 L1251.4,846.0 L1252.9,846.1 L1254.4,846.1 L1255.9,846.0 L1257.3,845.8 L1258.8,845.6 L1260.2,845.3 L1261.7,844.9 L1263.1,844.5 L1264.5,844.1 L1266.0,843.6 L1267.4,843.1 L1268.8,842.5 L1270.2,842.0 L1271.6,841.4 L1273.0,840.8 L1274.3,840.2 L1275.7,839.5 L1277.1,838.9 L1278.4,838.2 L1279.7,837.5 L1281.0,836.8 L1282.3,836.0 L1283.6,835.2 L1284.8,834.4 L1286.1,833.6 L1287.3,832.7 L1288.5,831.8 L1289.7,830.9 L1290.9,830.0 L1292.1,829.1 L1293.2,828.1 L1294.4,827.1 L1295.5,826.2 L1296.7,825.2 L1297.8,824.2 L1298.9,823.2 L1300.0,822.2 L1301.1,821.1 L1302.1,820.1 L1303.2,819.0 L1304.2,817.9 L1305.3,816.9 L1306.3,815.8 L1307.3,814.7 L1308.3,813.5 L1309.3,812.4 L1310.3,811.3 L1311.3,810.1 L1312.2,809.0 L1313.2,807.8 L1314.2,806.7 L1315.1,805.5 L1316.1,804.4 L1317.0,803.2 L1318.0,802.0 L1318.9,800.9 L1319.9,799.7 L1320.8,798.6 L1321.8,797.4 L1322.7,796.2 L1323.7,795.1 L1324.6,793.9 L1325.5,792.7 L1326.5,791.5 L1327.4,790.4 L1328.3,789.2 L1329.3,788.0 L1330.2,786.8 L1331.1,785.7 L1332.1,784.5 L1333.0,783.3 L1333.9,782.1 L1334.8,780.9 L1335.8,779.8 L1336.7,778.6 L1337.6,777.4 L1338.6,776.2 L1339.5,775.1 L1340.4,773.9 L1341.4,772.7 L1342.3,771.6 L1343.2,770.4 L1344.2,769.2 L1345.1,768.0 L1346.0,766.8 L1346.9,765.7 L1347.9,764.5 L1348.8,763.3 L1349.7,762.1 L1350.6,760.9 L1351.5,759.7 L1352.4,758.5 L1353.3,757.3 L1354.2,756.1 L1355.1,754.9 L1356.0,753.7 L1356.9,752.5 L1357.8,751.3 L1358.7,750.1 L1359.6,748.9 L1360.5,747.7 L1361.4,746.5 L1362.3,745.3 L1363.2,744.1 L1364.0,742.9 L1364.9,741.6 L1365.8,740.4 L1366.7,739.2 L1367.5,738.0 L1368.4,736.8 L1369.3,735.6 L1370.2,734.3 L1371.0,733.1 L1371.9,731.9 L1372.8,730.7 L1373.6,729.4 L1374.5,728.2 L1375.3,727.0 L1376.2,725.7 L1377.0,724.5 L1377.9,723.3 L1378.7,722.0 L1379.5,720.8 L1380.4,719.5 L1381.2,718.3 L1382.0,717.0 L1382.8,715.8 L1383.7,714.5 L1384.5,713.2 L1385.3,712.0 L1386.1,710.7 L1386.9,709.5 L1387.7,708.2 L1388.5,706.9 L1389.4,705.7 L1390.2,704.4 L1391.0,703.2 L1391.8,701.9 L1392.7,700.7 L1393.5,699.4 L1394.4,698.2 L1395.2,697.0 L1396.1,695.7 L1396.9,694.5 L1397.8,693.3 L1398.7,692.1 L1399.5,690.8 L1400.4,689.6 L1401.3,688.4 L1402.2,687.2 L1403.1,686.0 L1404.0,684.8 L1404.9,683.6 L1405.8,682.4 L1406.7,681.2 L1407.7,680.1 L1408.6,678.9 L1409.5,677.7 L1410.5,676.6 L1411.5,675.4 L1412.4,674.3 L1413.4,673.1 L1414.4,672.0 L1415.3,670.8 L1416.3,669.7 L1417.3,668.6 L1418.3,667.5 L1419.3,666.3 L1420.3,665.2 L1421.4,664.1 L1422.4,663.0 L1423.4,661.9 L1424.4,660.9 L1425.5,659.8 L1426.5,658.7 L1427.6,657.6 L1428.6,656.6 L1429.7,655.5 L1430.8,654.5 L1431.8,653.4 L1432.9,652.4 L1434.0,651.3 L1435.1,650.3 L1436.2,649.3 L1437.4,648.3 L1438.5,647.3 L1439.6,646.4 L1440.8,645.4 L1441.9,644.4 L1443.1,643.5 L1444.2,642.5 L1445.4,641.6 L1446.6,640.7 L1447.8,639.8 L1449.0,638.9 L1450.2,638.0 L1451.4,637.1 L1452.6,636.2 L1453.8,635.3 L1455.0,634.4 L1456.3,633.6 L1457.5,632.7 L1458.7,631.8 L1460.0,631.0 L1461.2,630.2 L1462.4,629.3 L1463.7,628.5 L1465.0,627.7 L1466.2,626.8 L1467.5,626.0 L1468.8,625.2 L1470.0,624.4 L1471.3,623.7 L1472.6,622.9 L1473.9,622.1 L1475.2,621.4 L1476.5,620.6 L1477.8,619.9 L1479.1,619.1 L1480.4,618.4 L1481.8,617.7 L1483.1,617.0 L1484.4,616.3 L1485.8,615.7 L1487.1,615.0 L1488.5,614.4 L1489.9,613.8 L1491.2,613.2 L1492.6,612.6 L1494.0,612.1 L1495.4,611.5 L1496.9,611.0 L1498.3,610.6 L1499.7,610.1 L1501.1,609.7 L1502.6,609.3 L1504.0,608.9 L1505.5,608.6 L1507.0,608.3 L1508.4,608.1 L1509.9,607.8 L1511.4,607.6 L1512.9,607.4 L1514.4,607.2 L1515.8,607.1 L1517.3,606.9 L1518.8,606.8 L1520.3,606.7 L1521.8,606.5 L1523.3,606.4 L1524.8,606.3 L1526.3,606.3 L1527.8,606.2 L1529.4,606.1 L1530.9,606.1 L1532.4,606.1 L1533.9,606.1 L1535.4,606.1 L1536.9,606.1 L1538.4,606.1 L1539.9,606.2 L1541.4,606.3 L1542.9,606.3 L1544.4,606.4 L1545.9,606.5 L1547.4,606.6 L1548.9,606.7 L1550.4,606.8 L1551.8,606.9 L1553.3,607.0 L1554.8,607.2 L1556.3,607.3 L1557.8,607.4 L1559.3,607.5 L1560.8,607.7 L1562.3,607.8 L1563.8,607.9 L1565.3,608.1 L1566.8,608.2 L1568.3,608.3 L1569.8,608.5 L1571.3,608.6 L1572.8,608.8 L1574.3,608.9 L1575.8,609.1 L1577.2,609.2 L1578.7,609.4 L1580.2,609.5 L1581.7,609.7 L1583.2,609.8 L1584.7,610.0 L1586.2,610.1 L1587.7,610.3 L1589.2,610.5 L1590.7,610.6 L1592.2,610.8 L1593.7,610.9 L1595.1,611.1 L1596.6,611.2 L1598.1,611.4 L1599.6,611.5 L1601.1,611.7 L1602.6,611.8 L1604.1,612.0 L1605.6,612.1 L1607.1,612.3 L1608.6,612.4 L1610.1,612.6 L1611.6,612.7 L1613.1,612.9 L1614.5,613.0 L1616.0,613.2 L1617.5,613.3 L1619.0,613.5 L1620.5,613.6 L1622.0,613.7 L1623.5,613.9 L1625.0,614.0"/>
</g>
<g class="tick">
<text transform="translate(251.4,1228.5) scale(0.96,1)" text-anchor="middle">0</text>
<text transform="translate(360.9,1228.5) scale(0.96,1)" text-anchor="middle">20</text>
<text transform="translate(470.4,1228.5) scale(0.96,1)" text-anchor="middle">40</text>
<text transform="translate(579.9,1228.5) scale(0.96,1)" text-anchor="middle">60</text>
<text transform="translate(689.4,1228.5) scale(0.96,1)" text-anchor="middle">80</text>
<text transform="translate(798.8,1228.5) scale(0.96,1)" text-anchor="middle">100</text>
<text transform="translate(908.3,1228.5) scale(0.96,1)" text-anchor="middle">120</text>
<text transform="translate(1017.8,1228.5) scale(0.96,1)" text-anchor="middle">140</text>
<text transform="translate(1127.3,1228.5) scale(0.96,1)" text-anchor="middle">160</text>
<text transform="translate(1236.8,1228.5) scale(0.96,1)" text-anchor="middle">180</text>
<text transform="translate(1346.3,1228.5) scale(0.96,1)" text-anchor="middle">200</text>
<text transform="translate(1455.8,1228.5) scale(0.96,1)" text-anchor="middle">220</text>
<text transform="translate(1565.3,1228.5) scale(0.96,1)" text-anchor="middle">240</text>
<text transform="translate(213.8,1169.6) scale(0.96,1)" text-anchor="end">-40</text>
<text transform="translate(213.8,1000.1) scale(0.96,1)" text-anchor="end">-30</text>
<text transform="translate(213.8,830.5) scale(0.96,1)" text-anchor="end">-20</text>
<text transform="translate(213.8,661.0) scale(0.96,1)" text-anchor="end">-10</text>
<text transform="translate(213.8,491.4) scale(0.96,1)" text-anchor="end">0</text>
<text transform="translate(213.8,321.9) scale(0.96,1)" text-anchor="end">10</text>
<text transform="translate(213.8,152.4) scale(0.96,1)" text-anchor="end">20</text>
</g>
<text class="lab" x="937" y="1316.5" text-anchor="middle">Frequency(GHz)</text>
<text class="lab" transform="translate(122,606) rotate(-90)" text-anchor="middle">S-parameters(dB)</text>
<line x1="596.4" y1="842.5" x2="683.4" y2="842.5" stroke="#000000" stroke-width="13.2" stroke-linecap="round"/>
<line x1="596.4" y1="890.4" x2="683.4" y2="890.4" stroke="#ff0000" stroke-width="13.2" stroke-linecap="round"/>
<line x1="596.4" y1="938" x2="683.4" y2="938" stroke="#0000ff" stroke-width="13.2" stroke-linecap="round"/>
<g class="leg">
<text x="693.9" y="856.2">S11</text>
<text x="693.9" y="904.0">S21</text>
<text x="693.9" y="951.9">S22</text>
</g>
</svg>
</body>
</html>
